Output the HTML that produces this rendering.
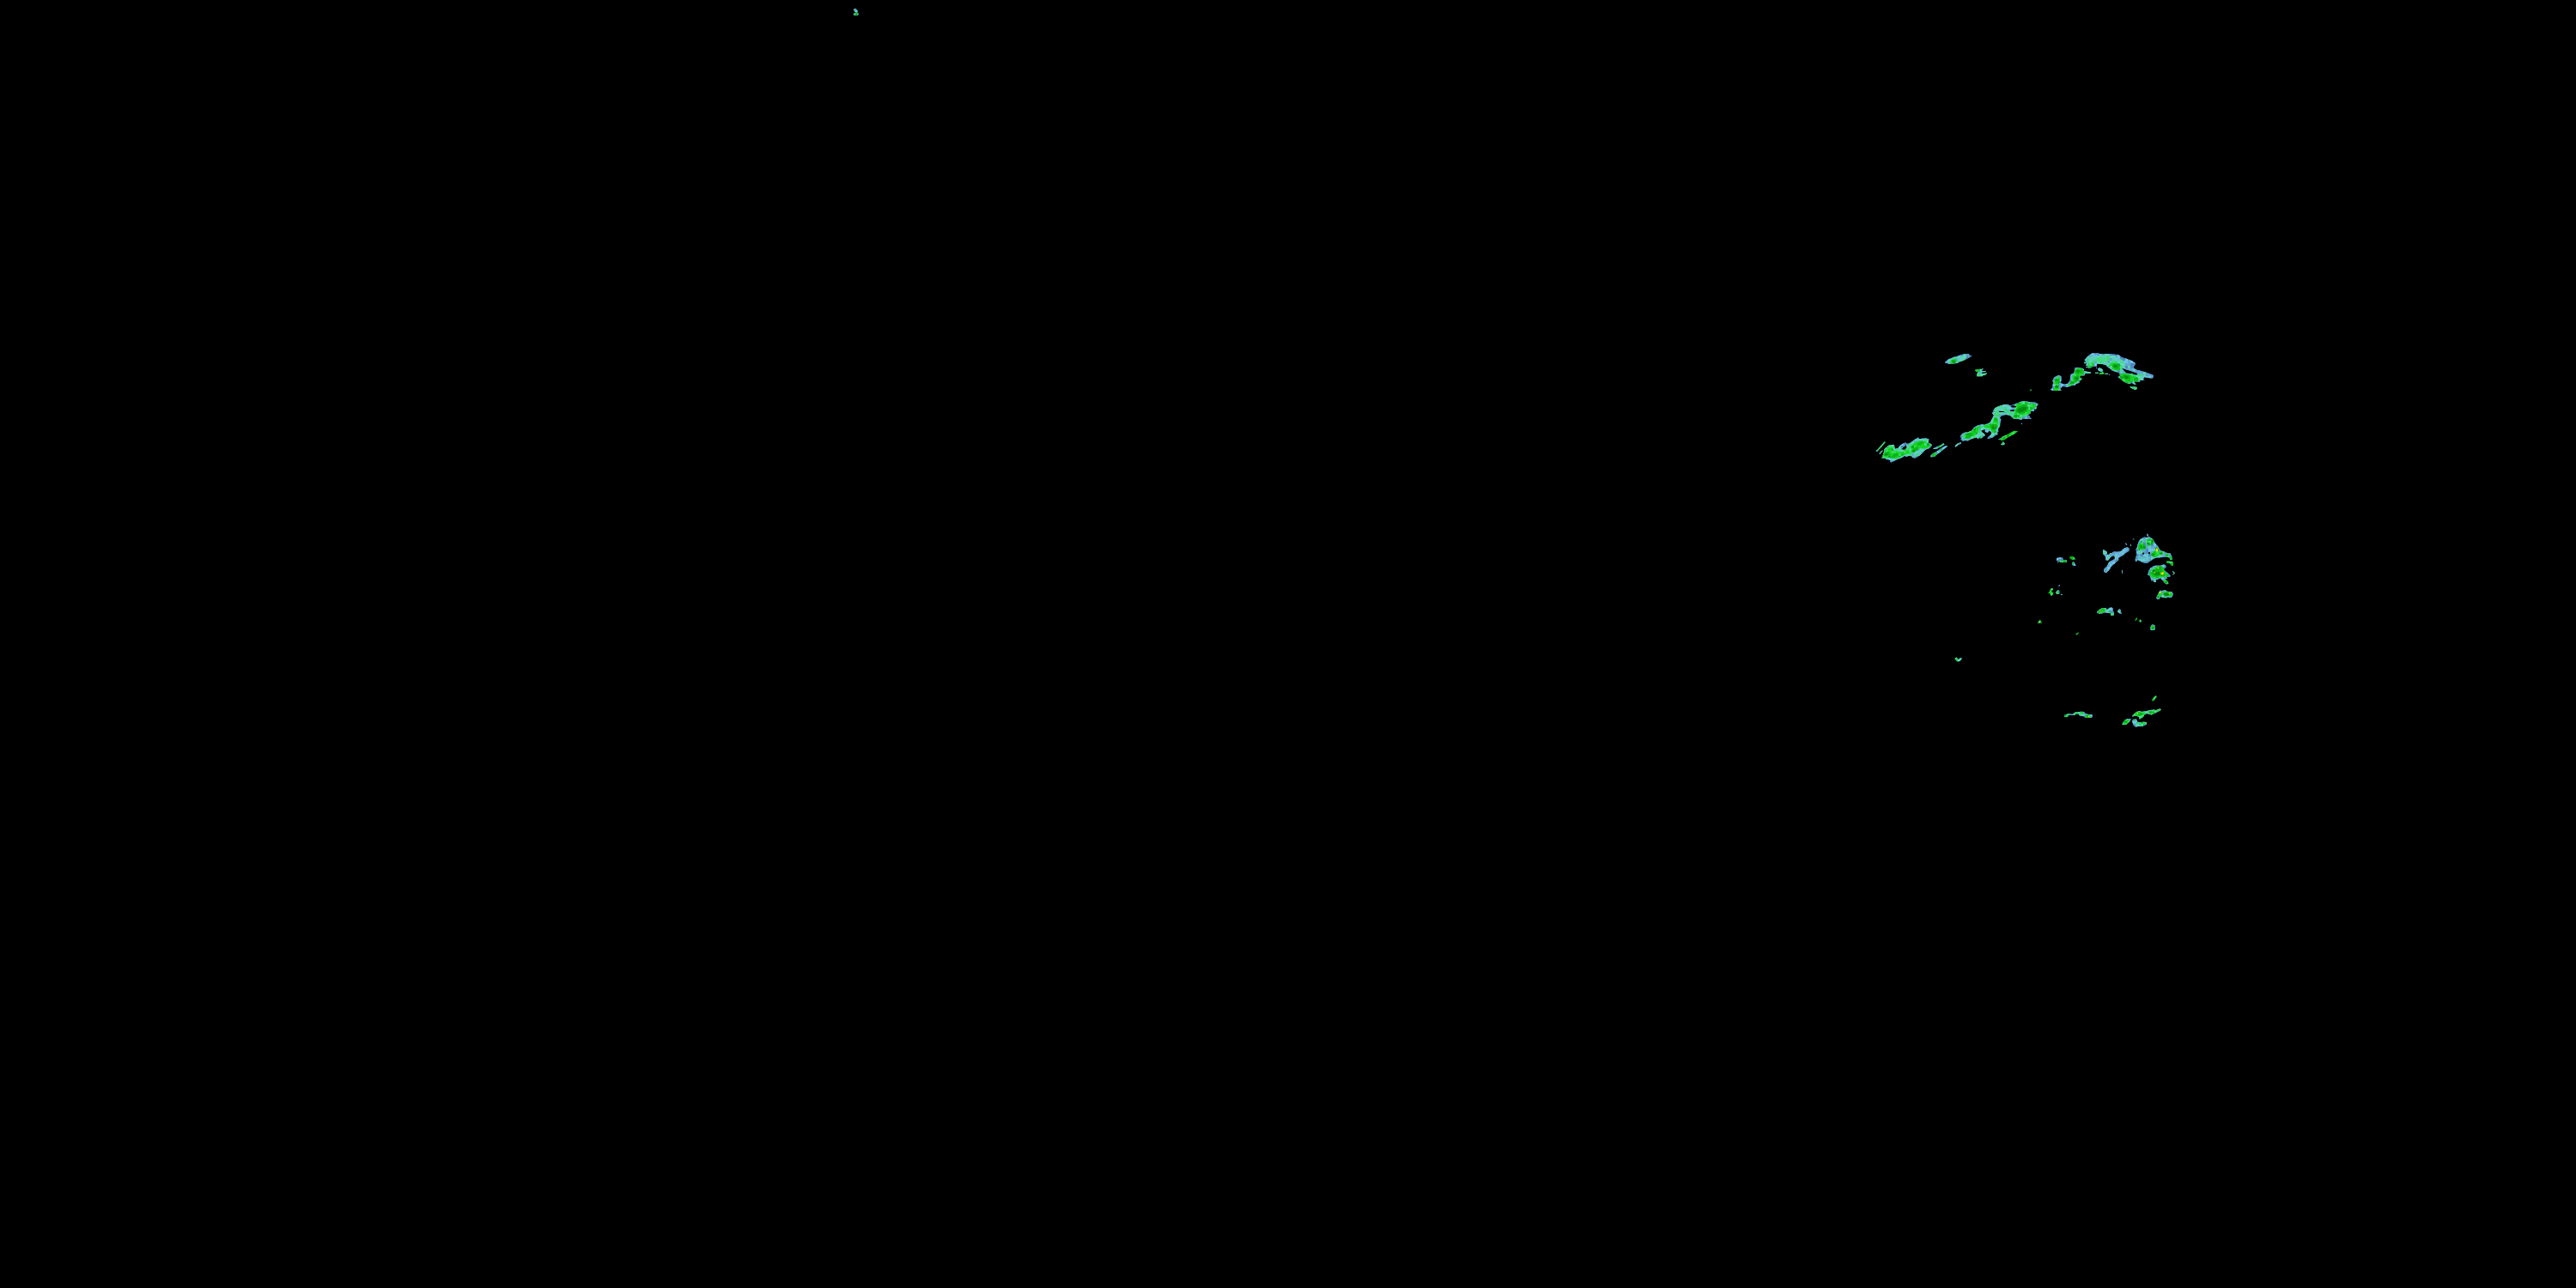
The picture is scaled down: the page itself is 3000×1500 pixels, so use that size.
<!DOCTYPE html>
<html><head><meta charset="utf-8"><title>Radar</title>
<style>
html,body{margin:0;padding:0;background:#000;width:3000px;height:1500px;overflow:hidden;font-family:"Liberation Sans",sans-serif;}
svg{display:block;}
</style></head>
<body>
<svg width="3000" height="1500" viewBox="0 0 3000 1500">
<defs><pattern id="mb" patternUnits="userSpaceOnUse" width="60" height="60"><rect x="0" y="0" width="3" height="3" fill="#5088c0"/><rect x="3" y="0" width="3" height="3" fill="#6cc4e8"/><rect x="6" y="0" width="3" height="3" fill="#5a9ccc"/><rect x="9" y="0" width="3" height="3" fill="#5088c0"/><rect x="12" y="0" width="3" height="3" fill="#6cc4e8"/><rect x="15" y="0" width="3" height="3" fill="#6cc4e8"/><rect x="21" y="0" width="3" height="3" fill="#6cc4e8"/><rect x="24" y="0" width="3" height="3" fill="#6cc4e8"/><rect x="27" y="0" width="3" height="3" fill="#5ccfb0"/><rect x="33" y="0" width="3" height="3" fill="#5088c0"/><rect x="39" y="0" width="3" height="3" fill="#5ccfb0"/><rect x="42" y="0" width="3" height="3" fill="#6cc4e8"/><rect x="48" y="0" width="3" height="3" fill="#5a9ccc"/><rect x="51" y="0" width="3" height="3" fill="#5a9ccc"/><rect x="54" y="0" width="3" height="3" fill="#6cc4e8"/><rect x="57" y="0" width="3" height="3" fill="#6cc4e8"/><rect x="6" y="3" width="3" height="3" fill="#6cc4e8"/><rect x="21" y="3" width="3" height="3" fill="#5088c0"/><rect x="24" y="3" width="3" height="3" fill="#5088c0"/><rect x="27" y="3" width="3" height="3" fill="#5ccfb0"/><rect x="30" y="3" width="3" height="3" fill="#6cc4e8"/><rect x="33" y="3" width="3" height="3" fill="#6cc4e8"/><rect x="36" y="3" width="3" height="3" fill="#5088c0"/><rect x="39" y="3" width="3" height="3" fill="#6cc4e8"/><rect x="42" y="3" width="3" height="3" fill="#5088c0"/><rect x="48" y="3" width="3" height="3" fill="#5a9ccc"/><rect x="51" y="3" width="3" height="3" fill="#5a9ccc"/><rect x="54" y="3" width="3" height="3" fill="#5ccfb0"/><rect x="57" y="3" width="3" height="3" fill="#5ccfb0"/><rect x="0" y="6" width="3" height="3" fill="#5088c0"/><rect x="12" y="6" width="3" height="3" fill="#5ccfb0"/><rect x="15" y="6" width="3" height="3" fill="#5088c0"/><rect x="18" y="6" width="3" height="3" fill="#5ccfb0"/><rect x="21" y="6" width="3" height="3" fill="#5088c0"/><rect x="24" y="6" width="3" height="3" fill="#5a9ccc"/><rect x="27" y="6" width="3" height="3" fill="#5ccfb0"/><rect x="36" y="6" width="3" height="3" fill="#5a9ccc"/><rect x="39" y="6" width="3" height="3" fill="#5088c0"/><rect x="42" y="6" width="3" height="3" fill="#5a9ccc"/><rect x="45" y="6" width="3" height="3" fill="#5088c0"/><rect x="51" y="6" width="3" height="3" fill="#6cc4e8"/><rect x="54" y="6" width="3" height="3" fill="#5ccfb0"/><rect x="3" y="9" width="3" height="3" fill="#5088c0"/><rect x="6" y="9" width="3" height="3" fill="#5a9ccc"/><rect x="9" y="9" width="3" height="3" fill="#5ccfb0"/><rect x="24" y="9" width="3" height="3" fill="#5ccfb0"/><rect x="30" y="9" width="3" height="3" fill="#6cc4e8"/><rect x="33" y="9" width="3" height="3" fill="#5088c0"/><rect x="39" y="9" width="3" height="3" fill="#5ccfb0"/><rect x="45" y="9" width="3" height="3" fill="#6cc4e8"/><rect x="51" y="9" width="3" height="3" fill="#5088c0"/><rect x="0" y="12" width="3" height="3" fill="#5a9ccc"/><rect x="3" y="12" width="3" height="3" fill="#5ccfb0"/><rect x="6" y="12" width="3" height="3" fill="#5088c0"/><rect x="9" y="12" width="3" height="3" fill="#5ccfb0"/><rect x="15" y="12" width="3" height="3" fill="#5088c0"/><rect x="18" y="12" width="3" height="3" fill="#5ccfb0"/><rect x="21" y="12" width="3" height="3" fill="#6cc4e8"/><rect x="27" y="12" width="3" height="3" fill="#5a9ccc"/><rect x="36" y="12" width="3" height="3" fill="#5ccfb0"/><rect x="39" y="12" width="3" height="3" fill="#5088c0"/><rect x="51" y="12" width="3" height="3" fill="#6cc4e8"/><rect x="57" y="12" width="3" height="3" fill="#6cc4e8"/><rect x="0" y="15" width="3" height="3" fill="#5088c0"/><rect x="3" y="15" width="3" height="3" fill="#5088c0"/><rect x="6" y="15" width="3" height="3" fill="#5a9ccc"/><rect x="9" y="15" width="3" height="3" fill="#5088c0"/><rect x="12" y="15" width="3" height="3" fill="#6cc4e8"/><rect x="15" y="15" width="3" height="3" fill="#5ccfb0"/><rect x="24" y="15" width="3" height="3" fill="#5a9ccc"/><rect x="27" y="15" width="3" height="3" fill="#5ccfb0"/><rect x="36" y="15" width="3" height="3" fill="#5ccfb0"/><rect x="39" y="15" width="3" height="3" fill="#5a9ccc"/><rect x="45" y="15" width="3" height="3" fill="#5a9ccc"/><rect x="48" y="15" width="3" height="3" fill="#5ccfb0"/><rect x="51" y="15" width="3" height="3" fill="#6cc4e8"/><rect x="54" y="15" width="3" height="3" fill="#5088c0"/><rect x="3" y="18" width="3" height="3" fill="#5a9ccc"/><rect x="9" y="18" width="3" height="3" fill="#5ccfb0"/><rect x="15" y="18" width="3" height="3" fill="#5ccfb0"/><rect x="18" y="18" width="3" height="3" fill="#6cc4e8"/><rect x="27" y="18" width="3" height="3" fill="#5ccfb0"/><rect x="36" y="18" width="3" height="3" fill="#6cc4e8"/><rect x="39" y="18" width="3" height="3" fill="#5ccfb0"/><rect x="42" y="18" width="3" height="3" fill="#6cc4e8"/><rect x="48" y="18" width="3" height="3" fill="#5a9ccc"/><rect x="0" y="21" width="3" height="3" fill="#5088c0"/><rect x="9" y="21" width="3" height="3" fill="#5088c0"/><rect x="12" y="21" width="3" height="3" fill="#6cc4e8"/><rect x="18" y="21" width="3" height="3" fill="#5088c0"/><rect x="21" y="21" width="3" height="3" fill="#5ccfb0"/><rect x="24" y="21" width="3" height="3" fill="#5a9ccc"/><rect x="27" y="21" width="3" height="3" fill="#6cc4e8"/><rect x="30" y="21" width="3" height="3" fill="#6cc4e8"/><rect x="33" y="21" width="3" height="3" fill="#6cc4e8"/><rect x="45" y="21" width="3" height="3" fill="#5a9ccc"/><rect x="48" y="21" width="3" height="3" fill="#5ccfb0"/><rect x="51" y="21" width="3" height="3" fill="#5a9ccc"/><rect x="57" y="21" width="3" height="3" fill="#6cc4e8"/><rect x="0" y="24" width="3" height="3" fill="#5088c0"/><rect x="3" y="24" width="3" height="3" fill="#5ccfb0"/><rect x="6" y="24" width="3" height="3" fill="#5088c0"/><rect x="9" y="24" width="3" height="3" fill="#5a9ccc"/><rect x="15" y="24" width="3" height="3" fill="#6cc4e8"/><rect x="18" y="24" width="3" height="3" fill="#5ccfb0"/><rect x="21" y="24" width="3" height="3" fill="#5a9ccc"/><rect x="24" y="24" width="3" height="3" fill="#5ccfb0"/><rect x="27" y="24" width="3" height="3" fill="#5ccfb0"/><rect x="30" y="24" width="3" height="3" fill="#5ccfb0"/><rect x="33" y="24" width="3" height="3" fill="#5a9ccc"/><rect x="36" y="24" width="3" height="3" fill="#5088c0"/><rect x="39" y="24" width="3" height="3" fill="#6cc4e8"/><rect x="42" y="24" width="3" height="3" fill="#5a9ccc"/><rect x="45" y="24" width="3" height="3" fill="#5ccfb0"/><rect x="48" y="24" width="3" height="3" fill="#5088c0"/><rect x="51" y="24" width="3" height="3" fill="#5ccfb0"/><rect x="54" y="24" width="3" height="3" fill="#5ccfb0"/><rect x="57" y="24" width="3" height="3" fill="#6cc4e8"/><rect x="0" y="27" width="3" height="3" fill="#6cc4e8"/><rect x="3" y="27" width="3" height="3" fill="#5088c0"/><rect x="6" y="27" width="3" height="3" fill="#6cc4e8"/><rect x="9" y="27" width="3" height="3" fill="#6cc4e8"/><rect x="15" y="27" width="3" height="3" fill="#6cc4e8"/><rect x="18" y="27" width="3" height="3" fill="#5a9ccc"/><rect x="21" y="27" width="3" height="3" fill="#5ccfb0"/><rect x="24" y="27" width="3" height="3" fill="#5ccfb0"/><rect x="27" y="27" width="3" height="3" fill="#5088c0"/><rect x="30" y="27" width="3" height="3" fill="#5ccfb0"/><rect x="33" y="27" width="3" height="3" fill="#6cc4e8"/><rect x="36" y="27" width="3" height="3" fill="#5088c0"/><rect x="39" y="27" width="3" height="3" fill="#5ccfb0"/><rect x="45" y="27" width="3" height="3" fill="#5ccfb0"/><rect x="51" y="27" width="3" height="3" fill="#6cc4e8"/><rect x="54" y="27" width="3" height="3" fill="#5088c0"/><rect x="0" y="30" width="3" height="3" fill="#6cc4e8"/><rect x="3" y="30" width="3" height="3" fill="#5088c0"/><rect x="6" y="30" width="3" height="3" fill="#6cc4e8"/><rect x="9" y="30" width="3" height="3" fill="#5a9ccc"/><rect x="18" y="30" width="3" height="3" fill="#5088c0"/><rect x="21" y="30" width="3" height="3" fill="#6cc4e8"/><rect x="30" y="30" width="3" height="3" fill="#5a9ccc"/><rect x="33" y="30" width="3" height="3" fill="#6cc4e8"/><rect x="36" y="30" width="3" height="3" fill="#5088c0"/><rect x="39" y="30" width="3" height="3" fill="#5ccfb0"/><rect x="42" y="30" width="3" height="3" fill="#5088c0"/><rect x="45" y="30" width="3" height="3" fill="#6cc4e8"/><rect x="51" y="30" width="3" height="3" fill="#5088c0"/><rect x="54" y="30" width="3" height="3" fill="#5ccfb0"/><rect x="57" y="30" width="3" height="3" fill="#5a9ccc"/><rect x="0" y="33" width="3" height="3" fill="#5ccfb0"/><rect x="3" y="33" width="3" height="3" fill="#5088c0"/><rect x="6" y="33" width="3" height="3" fill="#6cc4e8"/><rect x="9" y="33" width="3" height="3" fill="#5088c0"/><rect x="15" y="33" width="3" height="3" fill="#5088c0"/><rect x="18" y="33" width="3" height="3" fill="#5ccfb0"/><rect x="21" y="33" width="3" height="3" fill="#5ccfb0"/><rect x="24" y="33" width="3" height="3" fill="#5ccfb0"/><rect x="27" y="33" width="3" height="3" fill="#5a9ccc"/><rect x="36" y="33" width="3" height="3" fill="#5088c0"/><rect x="45" y="33" width="3" height="3" fill="#5088c0"/><rect x="48" y="33" width="3" height="3" fill="#6cc4e8"/><rect x="51" y="33" width="3" height="3" fill="#5088c0"/><rect x="54" y="33" width="3" height="3" fill="#5088c0"/><rect x="57" y="33" width="3" height="3" fill="#5ccfb0"/><rect x="0" y="36" width="3" height="3" fill="#5a9ccc"/><rect x="3" y="36" width="3" height="3" fill="#5088c0"/><rect x="12" y="36" width="3" height="3" fill="#5ccfb0"/><rect x="18" y="36" width="3" height="3" fill="#5ccfb0"/><rect x="21" y="36" width="3" height="3" fill="#6cc4e8"/><rect x="24" y="36" width="3" height="3" fill="#5088c0"/><rect x="27" y="36" width="3" height="3" fill="#5ccfb0"/><rect x="36" y="36" width="3" height="3" fill="#5088c0"/><rect x="42" y="36" width="3" height="3" fill="#5ccfb0"/><rect x="54" y="36" width="3" height="3" fill="#6cc4e8"/><rect x="57" y="36" width="3" height="3" fill="#5088c0"/><rect x="0" y="39" width="3" height="3" fill="#6cc4e8"/><rect x="3" y="39" width="3" height="3" fill="#6cc4e8"/><rect x="6" y="39" width="3" height="3" fill="#5ccfb0"/><rect x="9" y="39" width="3" height="3" fill="#5a9ccc"/><rect x="12" y="39" width="3" height="3" fill="#6cc4e8"/><rect x="18" y="39" width="3" height="3" fill="#5088c0"/><rect x="27" y="39" width="3" height="3" fill="#5088c0"/><rect x="30" y="39" width="3" height="3" fill="#5ccfb0"/><rect x="39" y="39" width="3" height="3" fill="#5088c0"/><rect x="42" y="39" width="3" height="3" fill="#6cc4e8"/><rect x="45" y="39" width="3" height="3" fill="#6cc4e8"/><rect x="48" y="39" width="3" height="3" fill="#6cc4e8"/><rect x="51" y="39" width="3" height="3" fill="#5ccfb0"/><rect x="54" y="39" width="3" height="3" fill="#5088c0"/><rect x="57" y="39" width="3" height="3" fill="#5ccfb0"/><rect x="0" y="42" width="3" height="3" fill="#5a9ccc"/><rect x="6" y="42" width="3" height="3" fill="#5a9ccc"/><rect x="9" y="42" width="3" height="3" fill="#5ccfb0"/><rect x="15" y="42" width="3" height="3" fill="#5088c0"/><rect x="18" y="42" width="3" height="3" fill="#6cc4e8"/><rect x="21" y="42" width="3" height="3" fill="#5a9ccc"/><rect x="24" y="42" width="3" height="3" fill="#5088c0"/><rect x="27" y="42" width="3" height="3" fill="#6cc4e8"/><rect x="30" y="42" width="3" height="3" fill="#5ccfb0"/><rect x="33" y="42" width="3" height="3" fill="#5ccfb0"/><rect x="36" y="42" width="3" height="3" fill="#5a9ccc"/><rect x="39" y="42" width="3" height="3" fill="#5088c0"/><rect x="42" y="42" width="3" height="3" fill="#6cc4e8"/><rect x="48" y="42" width="3" height="3" fill="#5ccfb0"/><rect x="51" y="42" width="3" height="3" fill="#5ccfb0"/><rect x="54" y="42" width="3" height="3" fill="#6cc4e8"/><rect x="57" y="42" width="3" height="3" fill="#5ccfb0"/><rect x="3" y="45" width="3" height="3" fill="#5ccfb0"/><rect x="6" y="45" width="3" height="3" fill="#5a9ccc"/><rect x="9" y="45" width="3" height="3" fill="#5a9ccc"/><rect x="12" y="45" width="3" height="3" fill="#6cc4e8"/><rect x="15" y="45" width="3" height="3" fill="#5ccfb0"/><rect x="18" y="45" width="3" height="3" fill="#5088c0"/><rect x="21" y="45" width="3" height="3" fill="#5a9ccc"/><rect x="24" y="45" width="3" height="3" fill="#5ccfb0"/><rect x="27" y="45" width="3" height="3" fill="#5088c0"/><rect x="33" y="45" width="3" height="3" fill="#5088c0"/><rect x="36" y="45" width="3" height="3" fill="#6cc4e8"/><rect x="39" y="45" width="3" height="3" fill="#5ccfb0"/><rect x="42" y="45" width="3" height="3" fill="#5088c0"/><rect x="48" y="45" width="3" height="3" fill="#5ccfb0"/><rect x="54" y="45" width="3" height="3" fill="#5ccfb0"/><rect x="0" y="48" width="3" height="3" fill="#5088c0"/><rect x="3" y="48" width="3" height="3" fill="#5ccfb0"/><rect x="12" y="48" width="3" height="3" fill="#6cc4e8"/><rect x="15" y="48" width="3" height="3" fill="#5ccfb0"/><rect x="18" y="48" width="3" height="3" fill="#5ccfb0"/><rect x="21" y="48" width="3" height="3" fill="#6cc4e8"/><rect x="24" y="48" width="3" height="3" fill="#5a9ccc"/><rect x="27" y="48" width="3" height="3" fill="#5088c0"/><rect x="30" y="48" width="3" height="3" fill="#5a9ccc"/><rect x="39" y="48" width="3" height="3" fill="#6cc4e8"/><rect x="45" y="48" width="3" height="3" fill="#5ccfb0"/><rect x="48" y="48" width="3" height="3" fill="#6cc4e8"/><rect x="51" y="48" width="3" height="3" fill="#6cc4e8"/><rect x="54" y="48" width="3" height="3" fill="#5ccfb0"/><rect x="57" y="48" width="3" height="3" fill="#6cc4e8"/><rect x="0" y="51" width="3" height="3" fill="#5088c0"/><rect x="3" y="51" width="3" height="3" fill="#5088c0"/><rect x="6" y="51" width="3" height="3" fill="#5ccfb0"/><rect x="9" y="51" width="3" height="3" fill="#5a9ccc"/><rect x="15" y="51" width="3" height="3" fill="#5ccfb0"/><rect x="18" y="51" width="3" height="3" fill="#5a9ccc"/><rect x="21" y="51" width="3" height="3" fill="#6cc4e8"/><rect x="24" y="51" width="3" height="3" fill="#6cc4e8"/><rect x="30" y="51" width="3" height="3" fill="#6cc4e8"/><rect x="33" y="51" width="3" height="3" fill="#6cc4e8"/><rect x="36" y="51" width="3" height="3" fill="#6cc4e8"/><rect x="42" y="51" width="3" height="3" fill="#5a9ccc"/><rect x="45" y="51" width="3" height="3" fill="#6cc4e8"/><rect x="48" y="51" width="3" height="3" fill="#5088c0"/><rect x="51" y="51" width="3" height="3" fill="#5ccfb0"/><rect x="54" y="51" width="3" height="3" fill="#6cc4e8"/><rect x="57" y="51" width="3" height="3" fill="#5088c0"/><rect x="0" y="54" width="3" height="3" fill="#6cc4e8"/><rect x="6" y="54" width="3" height="3" fill="#6cc4e8"/><rect x="9" y="54" width="3" height="3" fill="#5088c0"/><rect x="12" y="54" width="3" height="3" fill="#5a9ccc"/><rect x="15" y="54" width="3" height="3" fill="#5a9ccc"/><rect x="21" y="54" width="3" height="3" fill="#5088c0"/><rect x="27" y="54" width="3" height="3" fill="#5088c0"/><rect x="30" y="54" width="3" height="3" fill="#5ccfb0"/><rect x="33" y="54" width="3" height="3" fill="#5a9ccc"/><rect x="36" y="54" width="3" height="3" fill="#5088c0"/><rect x="39" y="54" width="3" height="3" fill="#5088c0"/><rect x="45" y="54" width="3" height="3" fill="#6cc4e8"/><rect x="48" y="54" width="3" height="3" fill="#5a9ccc"/><rect x="54" y="54" width="3" height="3" fill="#5ccfb0"/><rect x="6" y="57" width="3" height="3" fill="#6cc4e8"/><rect x="9" y="57" width="3" height="3" fill="#5088c0"/><rect x="12" y="57" width="3" height="3" fill="#5088c0"/><rect x="15" y="57" width="3" height="3" fill="#6cc4e8"/><rect x="21" y="57" width="3" height="3" fill="#5ccfb0"/><rect x="27" y="57" width="3" height="3" fill="#6cc4e8"/><rect x="36" y="57" width="3" height="3" fill="#6cc4e8"/><rect x="39" y="57" width="3" height="3" fill="#5088c0"/><rect x="42" y="57" width="3" height="3" fill="#5088c0"/><rect x="45" y="57" width="3" height="3" fill="#5088c0"/><rect x="48" y="57" width="3" height="3" fill="#6cc4e8"/><rect x="57" y="57" width="3" height="3" fill="#6cc4e8"/></pattern>
<pattern id="mg" patternUnits="userSpaceOnUse" width="60" height="60"><rect x="0" y="0" width="3" height="3" fill="#4ad890"/><rect x="9" y="0" width="3" height="3" fill="#4ad890"/><rect x="18" y="0" width="3" height="3" fill="#30dc50"/><rect x="24" y="0" width="3" height="3" fill="#0aa818"/><rect x="30" y="0" width="3" height="3" fill="#4ad890"/><rect x="36" y="0" width="3" height="3" fill="#30dc50"/><rect x="39" y="0" width="3" height="3" fill="#4ad890"/><rect x="42" y="0" width="3" height="3" fill="#30dc50"/><rect x="45" y="0" width="3" height="3" fill="#4ad890"/><rect x="48" y="0" width="3" height="3" fill="#30dc50"/><rect x="54" y="0" width="3" height="3" fill="#0aa818"/><rect x="57" y="0" width="3" height="3" fill="#10c020"/><rect x="6" y="3" width="3" height="3" fill="#0aa818"/><rect x="9" y="3" width="3" height="3" fill="#10c020"/><rect x="12" y="3" width="3" height="3" fill="#4ad890"/><rect x="15" y="3" width="3" height="3" fill="#30dc50"/><rect x="18" y="3" width="3" height="3" fill="#4ad890"/><rect x="21" y="3" width="3" height="3" fill="#10c020"/><rect x="24" y="3" width="3" height="3" fill="#30dc50"/><rect x="27" y="3" width="3" height="3" fill="#30dc50"/><rect x="33" y="3" width="3" height="3" fill="#4ad890"/><rect x="39" y="3" width="3" height="3" fill="#30dc50"/><rect x="42" y="3" width="3" height="3" fill="#4ad890"/><rect x="45" y="3" width="3" height="3" fill="#30dc50"/><rect x="51" y="3" width="3" height="3" fill="#0aa818"/><rect x="54" y="3" width="3" height="3" fill="#30dc50"/><rect x="3" y="6" width="3" height="3" fill="#10c020"/><rect x="9" y="6" width="3" height="3" fill="#4ad890"/><rect x="12" y="6" width="3" height="3" fill="#10c020"/><rect x="15" y="6" width="3" height="3" fill="#10c020"/><rect x="18" y="6" width="3" height="3" fill="#10c020"/><rect x="21" y="6" width="3" height="3" fill="#30dc50"/><rect x="24" y="6" width="3" height="3" fill="#4ad890"/><rect x="33" y="6" width="3" height="3" fill="#10c020"/><rect x="39" y="6" width="3" height="3" fill="#10c020"/><rect x="42" y="6" width="3" height="3" fill="#10c020"/><rect x="45" y="6" width="3" height="3" fill="#10c020"/><rect x="48" y="6" width="3" height="3" fill="#30dc50"/><rect x="51" y="6" width="3" height="3" fill="#10c020"/><rect x="57" y="6" width="3" height="3" fill="#4ad890"/><rect x="3" y="9" width="3" height="3" fill="#10c020"/><rect x="6" y="9" width="3" height="3" fill="#10c020"/><rect x="9" y="9" width="3" height="3" fill="#4ad890"/><rect x="12" y="9" width="3" height="3" fill="#4ad890"/><rect x="15" y="9" width="3" height="3" fill="#10c020"/><rect x="18" y="9" width="3" height="3" fill="#10c020"/><rect x="24" y="9" width="3" height="3" fill="#0aa818"/><rect x="30" y="9" width="3" height="3" fill="#10c020"/><rect x="48" y="9" width="3" height="3" fill="#10c020"/><rect x="51" y="9" width="3" height="3" fill="#30dc50"/><rect x="54" y="9" width="3" height="3" fill="#30dc50"/><rect x="0" y="12" width="3" height="3" fill="#30dc50"/><rect x="6" y="12" width="3" height="3" fill="#10c020"/><rect x="9" y="12" width="3" height="3" fill="#0aa818"/><rect x="12" y="12" width="3" height="3" fill="#4ad890"/><rect x="15" y="12" width="3" height="3" fill="#10c020"/><rect x="18" y="12" width="3" height="3" fill="#0aa818"/><rect x="21" y="12" width="3" height="3" fill="#10c020"/><rect x="24" y="12" width="3" height="3" fill="#10c020"/><rect x="27" y="12" width="3" height="3" fill="#10c020"/><rect x="30" y="12" width="3" height="3" fill="#4ad890"/><rect x="33" y="12" width="3" height="3" fill="#30dc50"/><rect x="36" y="12" width="3" height="3" fill="#10c020"/><rect x="39" y="12" width="3" height="3" fill="#30dc50"/><rect x="42" y="12" width="3" height="3" fill="#30dc50"/><rect x="48" y="12" width="3" height="3" fill="#30dc50"/><rect x="51" y="12" width="3" height="3" fill="#0aa818"/><rect x="54" y="12" width="3" height="3" fill="#30dc50"/><rect x="57" y="12" width="3" height="3" fill="#4ad890"/><rect x="3" y="15" width="3" height="3" fill="#10c020"/><rect x="6" y="15" width="3" height="3" fill="#30dc50"/><rect x="15" y="15" width="3" height="3" fill="#30dc50"/><rect x="18" y="15" width="3" height="3" fill="#10c020"/><rect x="27" y="15" width="3" height="3" fill="#4ad890"/><rect x="42" y="15" width="3" height="3" fill="#0aa818"/><rect x="54" y="15" width="3" height="3" fill="#10c020"/><rect x="3" y="18" width="3" height="3" fill="#30dc50"/><rect x="6" y="18" width="3" height="3" fill="#4ad890"/><rect x="9" y="18" width="3" height="3" fill="#0aa818"/><rect x="18" y="18" width="3" height="3" fill="#0aa818"/><rect x="27" y="18" width="3" height="3" fill="#10c020"/><rect x="33" y="18" width="3" height="3" fill="#30dc50"/><rect x="36" y="18" width="3" height="3" fill="#30dc50"/><rect x="39" y="18" width="3" height="3" fill="#10c020"/><rect x="54" y="18" width="3" height="3" fill="#30dc50"/><rect x="0" y="21" width="3" height="3" fill="#0aa818"/><rect x="3" y="21" width="3" height="3" fill="#30dc50"/><rect x="9" y="21" width="3" height="3" fill="#10c020"/><rect x="12" y="21" width="3" height="3" fill="#30dc50"/><rect x="18" y="21" width="3" height="3" fill="#10c020"/><rect x="24" y="21" width="3" height="3" fill="#30dc50"/><rect x="30" y="21" width="3" height="3" fill="#30dc50"/><rect x="33" y="21" width="3" height="3" fill="#4ad890"/><rect x="36" y="21" width="3" height="3" fill="#0aa818"/><rect x="42" y="21" width="3" height="3" fill="#10c020"/><rect x="51" y="21" width="3" height="3" fill="#0aa818"/><rect x="54" y="21" width="3" height="3" fill="#0aa818"/><rect x="3" y="24" width="3" height="3" fill="#30dc50"/><rect x="9" y="24" width="3" height="3" fill="#0aa818"/><rect x="12" y="24" width="3" height="3" fill="#0aa818"/><rect x="15" y="24" width="3" height="3" fill="#10c020"/><rect x="21" y="24" width="3" height="3" fill="#0aa818"/><rect x="24" y="24" width="3" height="3" fill="#10c020"/><rect x="36" y="24" width="3" height="3" fill="#0aa818"/><rect x="39" y="24" width="3" height="3" fill="#10c020"/><rect x="42" y="24" width="3" height="3" fill="#30dc50"/><rect x="45" y="24" width="3" height="3" fill="#0aa818"/><rect x="48" y="24" width="3" height="3" fill="#4ad890"/><rect x="54" y="24" width="3" height="3" fill="#10c020"/><rect x="57" y="24" width="3" height="3" fill="#0aa818"/><rect x="0" y="27" width="3" height="3" fill="#30dc50"/><rect x="6" y="27" width="3" height="3" fill="#30dc50"/><rect x="24" y="27" width="3" height="3" fill="#10c020"/><rect x="27" y="27" width="3" height="3" fill="#4ad890"/><rect x="33" y="27" width="3" height="3" fill="#10c020"/><rect x="36" y="27" width="3" height="3" fill="#0aa818"/><rect x="39" y="27" width="3" height="3" fill="#10c020"/><rect x="42" y="27" width="3" height="3" fill="#10c020"/><rect x="45" y="27" width="3" height="3" fill="#30dc50"/><rect x="51" y="27" width="3" height="3" fill="#4ad890"/><rect x="54" y="27" width="3" height="3" fill="#30dc50"/><rect x="57" y="27" width="3" height="3" fill="#0aa818"/><rect x="0" y="30" width="3" height="3" fill="#0aa818"/><rect x="12" y="30" width="3" height="3" fill="#10c020"/><rect x="15" y="30" width="3" height="3" fill="#4ad890"/><rect x="18" y="30" width="3" height="3" fill="#4ad890"/><rect x="21" y="30" width="3" height="3" fill="#10c020"/><rect x="24" y="30" width="3" height="3" fill="#30dc50"/><rect x="27" y="30" width="3" height="3" fill="#30dc50"/><rect x="33" y="30" width="3" height="3" fill="#4ad890"/><rect x="36" y="30" width="3" height="3" fill="#4ad890"/><rect x="39" y="30" width="3" height="3" fill="#30dc50"/><rect x="42" y="30" width="3" height="3" fill="#4ad890"/><rect x="45" y="30" width="3" height="3" fill="#0aa818"/><rect x="48" y="30" width="3" height="3" fill="#30dc50"/><rect x="3" y="33" width="3" height="3" fill="#4ad890"/><rect x="18" y="33" width="3" height="3" fill="#10c020"/><rect x="27" y="33" width="3" height="3" fill="#10c020"/><rect x="30" y="33" width="3" height="3" fill="#10c020"/><rect x="36" y="33" width="3" height="3" fill="#0aa818"/><rect x="42" y="33" width="3" height="3" fill="#10c020"/><rect x="45" y="33" width="3" height="3" fill="#0aa818"/><rect x="48" y="33" width="3" height="3" fill="#4ad890"/><rect x="57" y="33" width="3" height="3" fill="#4ad890"/><rect x="0" y="36" width="3" height="3" fill="#10c020"/><rect x="21" y="36" width="3" height="3" fill="#4ad890"/><rect x="24" y="36" width="3" height="3" fill="#0aa818"/><rect x="30" y="36" width="3" height="3" fill="#10c020"/><rect x="33" y="36" width="3" height="3" fill="#0aa818"/><rect x="36" y="36" width="3" height="3" fill="#10c020"/><rect x="48" y="36" width="3" height="3" fill="#4ad890"/><rect x="51" y="36" width="3" height="3" fill="#10c020"/><rect x="54" y="36" width="3" height="3" fill="#10c020"/><rect x="57" y="36" width="3" height="3" fill="#30dc50"/><rect x="3" y="39" width="3" height="3" fill="#30dc50"/><rect x="6" y="39" width="3" height="3" fill="#0aa818"/><rect x="9" y="39" width="3" height="3" fill="#30dc50"/><rect x="27" y="39" width="3" height="3" fill="#10c020"/><rect x="30" y="39" width="3" height="3" fill="#30dc50"/><rect x="36" y="39" width="3" height="3" fill="#10c020"/><rect x="39" y="39" width="3" height="3" fill="#30dc50"/><rect x="42" y="39" width="3" height="3" fill="#30dc50"/><rect x="48" y="39" width="3" height="3" fill="#4ad890"/><rect x="51" y="39" width="3" height="3" fill="#10c020"/><rect x="0" y="42" width="3" height="3" fill="#30dc50"/><rect x="3" y="42" width="3" height="3" fill="#4ad890"/><rect x="12" y="42" width="3" height="3" fill="#10c020"/><rect x="18" y="42" width="3" height="3" fill="#10c020"/><rect x="21" y="42" width="3" height="3" fill="#4ad890"/><rect x="24" y="42" width="3" height="3" fill="#10c020"/><rect x="27" y="42" width="3" height="3" fill="#0aa818"/><rect x="33" y="42" width="3" height="3" fill="#0aa818"/><rect x="36" y="42" width="3" height="3" fill="#30dc50"/><rect x="42" y="42" width="3" height="3" fill="#10c020"/><rect x="45" y="42" width="3" height="3" fill="#30dc50"/><rect x="48" y="42" width="3" height="3" fill="#10c020"/><rect x="51" y="42" width="3" height="3" fill="#30dc50"/><rect x="57" y="42" width="3" height="3" fill="#10c020"/><rect x="3" y="45" width="3" height="3" fill="#30dc50"/><rect x="9" y="45" width="3" height="3" fill="#4ad890"/><rect x="12" y="45" width="3" height="3" fill="#10c020"/><rect x="18" y="45" width="3" height="3" fill="#10c020"/><rect x="24" y="45" width="3" height="3" fill="#30dc50"/><rect x="30" y="45" width="3" height="3" fill="#30dc50"/><rect x="36" y="45" width="3" height="3" fill="#30dc50"/><rect x="42" y="45" width="3" height="3" fill="#30dc50"/><rect x="45" y="45" width="3" height="3" fill="#30dc50"/><rect x="57" y="45" width="3" height="3" fill="#30dc50"/><rect x="6" y="48" width="3" height="3" fill="#10c020"/><rect x="9" y="48" width="3" height="3" fill="#0aa818"/><rect x="15" y="48" width="3" height="3" fill="#4ad890"/><rect x="18" y="48" width="3" height="3" fill="#10c020"/><rect x="30" y="48" width="3" height="3" fill="#10c020"/><rect x="39" y="48" width="3" height="3" fill="#10c020"/><rect x="45" y="48" width="3" height="3" fill="#10c020"/><rect x="48" y="48" width="3" height="3" fill="#10c020"/><rect x="51" y="48" width="3" height="3" fill="#30dc50"/><rect x="54" y="48" width="3" height="3" fill="#10c020"/><rect x="3" y="51" width="3" height="3" fill="#0aa818"/><rect x="15" y="51" width="3" height="3" fill="#0aa818"/><rect x="18" y="51" width="3" height="3" fill="#10c020"/><rect x="21" y="51" width="3" height="3" fill="#4ad890"/><rect x="24" y="51" width="3" height="3" fill="#30dc50"/><rect x="30" y="51" width="3" height="3" fill="#10c020"/><rect x="33" y="51" width="3" height="3" fill="#30dc50"/><rect x="39" y="51" width="3" height="3" fill="#0aa818"/><rect x="42" y="51" width="3" height="3" fill="#10c020"/><rect x="51" y="51" width="3" height="3" fill="#10c020"/><rect x="57" y="51" width="3" height="3" fill="#4ad890"/><rect x="0" y="54" width="3" height="3" fill="#4ad890"/><rect x="3" y="54" width="3" height="3" fill="#10c020"/><rect x="6" y="54" width="3" height="3" fill="#4ad890"/><rect x="9" y="54" width="3" height="3" fill="#30dc50"/><rect x="12" y="54" width="3" height="3" fill="#10c020"/><rect x="18" y="54" width="3" height="3" fill="#4ad890"/><rect x="21" y="54" width="3" height="3" fill="#4ad890"/><rect x="24" y="54" width="3" height="3" fill="#10c020"/><rect x="33" y="54" width="3" height="3" fill="#30dc50"/><rect x="36" y="54" width="3" height="3" fill="#0aa818"/><rect x="45" y="54" width="3" height="3" fill="#30dc50"/><rect x="48" y="54" width="3" height="3" fill="#30dc50"/><rect x="57" y="54" width="3" height="3" fill="#30dc50"/><rect x="3" y="57" width="3" height="3" fill="#0aa818"/><rect x="9" y="57" width="3" height="3" fill="#0aa818"/><rect x="12" y="57" width="3" height="3" fill="#10c020"/><rect x="27" y="57" width="3" height="3" fill="#30dc50"/><rect x="30" y="57" width="3" height="3" fill="#30dc50"/><rect x="33" y="57" width="3" height="3" fill="#30dc50"/><rect x="39" y="57" width="3" height="3" fill="#30dc50"/><rect x="42" y="57" width="3" height="3" fill="#30dc50"/><rect x="51" y="57" width="3" height="3" fill="#10c020"/></pattern>
<pattern id="mt" patternUnits="userSpaceOnUse" width="60" height="60"><rect x="0" y="0" width="3" height="3" fill="#40d880"/><rect x="3" y="0" width="3" height="3" fill="#40d880"/><rect x="6" y="0" width="3" height="3" fill="#58dcb0"/><rect x="12" y="0" width="3" height="3" fill="#40d880"/><rect x="15" y="0" width="3" height="3" fill="#58dcb0"/><rect x="18" y="0" width="3" height="3" fill="#58dcb0"/><rect x="24" y="0" width="3" height="3" fill="#40d880"/><rect x="27" y="0" width="3" height="3" fill="#40d880"/><rect x="30" y="0" width="3" height="3" fill="#40d880"/><rect x="33" y="0" width="3" height="3" fill="#58dcb0"/><rect x="36" y="0" width="3" height="3" fill="#40d880"/><rect x="39" y="0" width="3" height="3" fill="#62a8d6"/><rect x="42" y="0" width="3" height="3" fill="#58dcb0"/><rect x="45" y="0" width="3" height="3" fill="#40d880"/><rect x="54" y="0" width="3" height="3" fill="#62a8d6"/><rect x="0" y="3" width="3" height="3" fill="#40d880"/><rect x="3" y="3" width="3" height="3" fill="#6cc4e8"/><rect x="6" y="3" width="3" height="3" fill="#62a8d6"/><rect x="9" y="3" width="3" height="3" fill="#58dcb0"/><rect x="12" y="3" width="3" height="3" fill="#58dcb0"/><rect x="15" y="3" width="3" height="3" fill="#40d880"/><rect x="18" y="3" width="3" height="3" fill="#40d880"/><rect x="27" y="3" width="3" height="3" fill="#58dcb0"/><rect x="36" y="3" width="3" height="3" fill="#58dcb0"/><rect x="39" y="3" width="3" height="3" fill="#6cc4e8"/><rect x="57" y="3" width="3" height="3" fill="#40d880"/><rect x="15" y="6" width="3" height="3" fill="#58dcb0"/><rect x="18" y="6" width="3" height="3" fill="#6cc4e8"/><rect x="21" y="6" width="3" height="3" fill="#40d880"/><rect x="48" y="6" width="3" height="3" fill="#40d880"/><rect x="51" y="6" width="3" height="3" fill="#62a8d6"/><rect x="54" y="6" width="3" height="3" fill="#62a8d6"/><rect x="0" y="9" width="3" height="3" fill="#40d880"/><rect x="3" y="9" width="3" height="3" fill="#6cc4e8"/><rect x="12" y="9" width="3" height="3" fill="#62a8d6"/><rect x="18" y="9" width="3" height="3" fill="#6cc4e8"/><rect x="24" y="9" width="3" height="3" fill="#58dcb0"/><rect x="30" y="9" width="3" height="3" fill="#40d880"/><rect x="33" y="9" width="3" height="3" fill="#62a8d6"/><rect x="39" y="9" width="3" height="3" fill="#58dcb0"/><rect x="42" y="9" width="3" height="3" fill="#6cc4e8"/><rect x="48" y="9" width="3" height="3" fill="#62a8d6"/><rect x="51" y="9" width="3" height="3" fill="#40d880"/><rect x="0" y="12" width="3" height="3" fill="#40d880"/><rect x="3" y="12" width="3" height="3" fill="#6cc4e8"/><rect x="6" y="12" width="3" height="3" fill="#62a8d6"/><rect x="9" y="12" width="3" height="3" fill="#62a8d6"/><rect x="12" y="12" width="3" height="3" fill="#40d880"/><rect x="18" y="12" width="3" height="3" fill="#58dcb0"/><rect x="21" y="12" width="3" height="3" fill="#58dcb0"/><rect x="24" y="12" width="3" height="3" fill="#62a8d6"/><rect x="33" y="12" width="3" height="3" fill="#58dcb0"/><rect x="45" y="12" width="3" height="3" fill="#6cc4e8"/><rect x="48" y="12" width="3" height="3" fill="#40d880"/><rect x="54" y="12" width="3" height="3" fill="#40d880"/><rect x="57" y="12" width="3" height="3" fill="#6cc4e8"/><rect x="0" y="15" width="3" height="3" fill="#58dcb0"/><rect x="3" y="15" width="3" height="3" fill="#58dcb0"/><rect x="6" y="15" width="3" height="3" fill="#62a8d6"/><rect x="9" y="15" width="3" height="3" fill="#58dcb0"/><rect x="12" y="15" width="3" height="3" fill="#58dcb0"/><rect x="15" y="15" width="3" height="3" fill="#58dcb0"/><rect x="18" y="15" width="3" height="3" fill="#6cc4e8"/><rect x="21" y="15" width="3" height="3" fill="#40d880"/><rect x="24" y="15" width="3" height="3" fill="#40d880"/><rect x="27" y="15" width="3" height="3" fill="#58dcb0"/><rect x="30" y="15" width="3" height="3" fill="#40d880"/><rect x="33" y="15" width="3" height="3" fill="#6cc4e8"/><rect x="45" y="15" width="3" height="3" fill="#40d880"/><rect x="48" y="15" width="3" height="3" fill="#40d880"/><rect x="57" y="15" width="3" height="3" fill="#58dcb0"/><rect x="3" y="18" width="3" height="3" fill="#58dcb0"/><rect x="6" y="18" width="3" height="3" fill="#6cc4e8"/><rect x="9" y="18" width="3" height="3" fill="#40d880"/><rect x="12" y="18" width="3" height="3" fill="#58dcb0"/><rect x="15" y="18" width="3" height="3" fill="#40d880"/><rect x="21" y="18" width="3" height="3" fill="#58dcb0"/><rect x="24" y="18" width="3" height="3" fill="#62a8d6"/><rect x="27" y="18" width="3" height="3" fill="#58dcb0"/><rect x="30" y="18" width="3" height="3" fill="#58dcb0"/><rect x="42" y="18" width="3" height="3" fill="#6cc4e8"/><rect x="45" y="18" width="3" height="3" fill="#6cc4e8"/><rect x="57" y="18" width="3" height="3" fill="#6cc4e8"/><rect x="0" y="21" width="3" height="3" fill="#6cc4e8"/><rect x="3" y="21" width="3" height="3" fill="#58dcb0"/><rect x="6" y="21" width="3" height="3" fill="#58dcb0"/><rect x="9" y="21" width="3" height="3" fill="#6cc4e8"/><rect x="12" y="21" width="3" height="3" fill="#58dcb0"/><rect x="21" y="21" width="3" height="3" fill="#58dcb0"/><rect x="24" y="21" width="3" height="3" fill="#40d880"/><rect x="39" y="21" width="3" height="3" fill="#62a8d6"/><rect x="42" y="21" width="3" height="3" fill="#62a8d6"/><rect x="0" y="24" width="3" height="3" fill="#62a8d6"/><rect x="6" y="24" width="3" height="3" fill="#58dcb0"/><rect x="9" y="24" width="3" height="3" fill="#40d880"/><rect x="12" y="24" width="3" height="3" fill="#62a8d6"/><rect x="15" y="24" width="3" height="3" fill="#40d880"/><rect x="39" y="24" width="3" height="3" fill="#58dcb0"/><rect x="45" y="24" width="3" height="3" fill="#62a8d6"/><rect x="54" y="24" width="3" height="3" fill="#6cc4e8"/><rect x="6" y="27" width="3" height="3" fill="#58dcb0"/><rect x="15" y="27" width="3" height="3" fill="#58dcb0"/><rect x="18" y="27" width="3" height="3" fill="#40d880"/><rect x="21" y="27" width="3" height="3" fill="#58dcb0"/><rect x="27" y="27" width="3" height="3" fill="#58dcb0"/><rect x="36" y="27" width="3" height="3" fill="#6cc4e8"/><rect x="39" y="27" width="3" height="3" fill="#40d880"/><rect x="42" y="27" width="3" height="3" fill="#6cc4e8"/><rect x="48" y="27" width="3" height="3" fill="#58dcb0"/><rect x="54" y="27" width="3" height="3" fill="#40d880"/><rect x="3" y="30" width="3" height="3" fill="#58dcb0"/><rect x="6" y="30" width="3" height="3" fill="#62a8d6"/><rect x="9" y="30" width="3" height="3" fill="#58dcb0"/><rect x="15" y="30" width="3" height="3" fill="#6cc4e8"/><rect x="18" y="30" width="3" height="3" fill="#58dcb0"/><rect x="21" y="30" width="3" height="3" fill="#40d880"/><rect x="27" y="30" width="3" height="3" fill="#40d880"/><rect x="30" y="30" width="3" height="3" fill="#58dcb0"/><rect x="33" y="30" width="3" height="3" fill="#58dcb0"/><rect x="36" y="30" width="3" height="3" fill="#62a8d6"/><rect x="45" y="30" width="3" height="3" fill="#6cc4e8"/><rect x="3" y="33" width="3" height="3" fill="#62a8d6"/><rect x="9" y="33" width="3" height="3" fill="#62a8d6"/><rect x="12" y="33" width="3" height="3" fill="#6cc4e8"/><rect x="21" y="33" width="3" height="3" fill="#40d880"/><rect x="24" y="33" width="3" height="3" fill="#58dcb0"/><rect x="27" y="33" width="3" height="3" fill="#58dcb0"/><rect x="30" y="33" width="3" height="3" fill="#40d880"/><rect x="36" y="33" width="3" height="3" fill="#58dcb0"/><rect x="39" y="33" width="3" height="3" fill="#58dcb0"/><rect x="42" y="33" width="3" height="3" fill="#58dcb0"/><rect x="45" y="33" width="3" height="3" fill="#40d880"/><rect x="51" y="33" width="3" height="3" fill="#40d880"/><rect x="54" y="33" width="3" height="3" fill="#6cc4e8"/><rect x="57" y="33" width="3" height="3" fill="#58dcb0"/><rect x="0" y="36" width="3" height="3" fill="#62a8d6"/><rect x="3" y="36" width="3" height="3" fill="#40d880"/><rect x="9" y="36" width="3" height="3" fill="#40d880"/><rect x="12" y="36" width="3" height="3" fill="#40d880"/><rect x="18" y="36" width="3" height="3" fill="#62a8d6"/><rect x="21" y="36" width="3" height="3" fill="#58dcb0"/><rect x="33" y="36" width="3" height="3" fill="#58dcb0"/><rect x="39" y="36" width="3" height="3" fill="#58dcb0"/><rect x="42" y="36" width="3" height="3" fill="#58dcb0"/><rect x="45" y="36" width="3" height="3" fill="#58dcb0"/><rect x="48" y="36" width="3" height="3" fill="#58dcb0"/><rect x="54" y="36" width="3" height="3" fill="#62a8d6"/><rect x="57" y="36" width="3" height="3" fill="#58dcb0"/><rect x="3" y="39" width="3" height="3" fill="#40d880"/><rect x="6" y="39" width="3" height="3" fill="#58dcb0"/><rect x="9" y="39" width="3" height="3" fill="#58dcb0"/><rect x="24" y="39" width="3" height="3" fill="#40d880"/><rect x="30" y="39" width="3" height="3" fill="#58dcb0"/><rect x="33" y="39" width="3" height="3" fill="#40d880"/><rect x="36" y="39" width="3" height="3" fill="#40d880"/><rect x="39" y="39" width="3" height="3" fill="#58dcb0"/><rect x="45" y="39" width="3" height="3" fill="#40d880"/><rect x="57" y="39" width="3" height="3" fill="#6cc4e8"/><rect x="0" y="42" width="3" height="3" fill="#58dcb0"/><rect x="6" y="42" width="3" height="3" fill="#6cc4e8"/><rect x="12" y="42" width="3" height="3" fill="#62a8d6"/><rect x="18" y="42" width="3" height="3" fill="#58dcb0"/><rect x="21" y="42" width="3" height="3" fill="#62a8d6"/><rect x="24" y="42" width="3" height="3" fill="#40d880"/><rect x="42" y="42" width="3" height="3" fill="#40d880"/><rect x="45" y="42" width="3" height="3" fill="#6cc4e8"/><rect x="48" y="42" width="3" height="3" fill="#40d880"/><rect x="54" y="42" width="3" height="3" fill="#58dcb0"/><rect x="0" y="45" width="3" height="3" fill="#62a8d6"/><rect x="9" y="45" width="3" height="3" fill="#58dcb0"/><rect x="12" y="45" width="3" height="3" fill="#6cc4e8"/><rect x="21" y="45" width="3" height="3" fill="#58dcb0"/><rect x="36" y="45" width="3" height="3" fill="#40d880"/><rect x="42" y="45" width="3" height="3" fill="#40d880"/><rect x="48" y="45" width="3" height="3" fill="#40d880"/><rect x="51" y="45" width="3" height="3" fill="#40d880"/><rect x="57" y="45" width="3" height="3" fill="#58dcb0"/><rect x="0" y="48" width="3" height="3" fill="#58dcb0"/><rect x="3" y="48" width="3" height="3" fill="#40d880"/><rect x="6" y="48" width="3" height="3" fill="#62a8d6"/><rect x="12" y="48" width="3" height="3" fill="#40d880"/><rect x="21" y="48" width="3" height="3" fill="#40d880"/><rect x="27" y="48" width="3" height="3" fill="#40d880"/><rect x="30" y="48" width="3" height="3" fill="#6cc4e8"/><rect x="36" y="48" width="3" height="3" fill="#40d880"/><rect x="45" y="48" width="3" height="3" fill="#6cc4e8"/><rect x="48" y="48" width="3" height="3" fill="#58dcb0"/><rect x="54" y="48" width="3" height="3" fill="#6cc4e8"/><rect x="0" y="51" width="3" height="3" fill="#58dcb0"/><rect x="6" y="51" width="3" height="3" fill="#40d880"/><rect x="12" y="51" width="3" height="3" fill="#40d880"/><rect x="15" y="51" width="3" height="3" fill="#6cc4e8"/><rect x="18" y="51" width="3" height="3" fill="#58dcb0"/><rect x="21" y="51" width="3" height="3" fill="#6cc4e8"/><rect x="24" y="51" width="3" height="3" fill="#40d880"/><rect x="27" y="51" width="3" height="3" fill="#62a8d6"/><rect x="30" y="51" width="3" height="3" fill="#40d880"/><rect x="33" y="51" width="3" height="3" fill="#40d880"/><rect x="36" y="51" width="3" height="3" fill="#40d880"/><rect x="39" y="51" width="3" height="3" fill="#6cc4e8"/><rect x="42" y="51" width="3" height="3" fill="#6cc4e8"/><rect x="45" y="51" width="3" height="3" fill="#58dcb0"/><rect x="48" y="51" width="3" height="3" fill="#40d880"/><rect x="51" y="51" width="3" height="3" fill="#58dcb0"/><rect x="54" y="51" width="3" height="3" fill="#6cc4e8"/><rect x="0" y="54" width="3" height="3" fill="#58dcb0"/><rect x="6" y="54" width="3" height="3" fill="#58dcb0"/><rect x="9" y="54" width="3" height="3" fill="#58dcb0"/><rect x="12" y="54" width="3" height="3" fill="#58dcb0"/><rect x="15" y="54" width="3" height="3" fill="#58dcb0"/><rect x="18" y="54" width="3" height="3" fill="#40d880"/><rect x="21" y="54" width="3" height="3" fill="#62a8d6"/><rect x="27" y="54" width="3" height="3" fill="#40d880"/><rect x="30" y="54" width="3" height="3" fill="#58dcb0"/><rect x="39" y="54" width="3" height="3" fill="#6cc4e8"/><rect x="42" y="54" width="3" height="3" fill="#58dcb0"/><rect x="54" y="54" width="3" height="3" fill="#40d880"/><rect x="57" y="54" width="3" height="3" fill="#58dcb0"/><rect x="3" y="57" width="3" height="3" fill="#6cc4e8"/><rect x="12" y="57" width="3" height="3" fill="#40d880"/><rect x="15" y="57" width="3" height="3" fill="#6cc4e8"/><rect x="18" y="57" width="3" height="3" fill="#62a8d6"/><rect x="21" y="57" width="3" height="3" fill="#40d880"/><rect x="30" y="57" width="3" height="3" fill="#40d880"/><rect x="42" y="57" width="3" height="3" fill="#40d880"/><rect x="51" y="57" width="3" height="3" fill="#58dcb0"/><rect x="54" y="57" width="3" height="3" fill="#40d880"/><rect x="57" y="57" width="3" height="3" fill="#62a8d6"/></pattern></defs>
<rect width="3000" height="1500" fill="#000"/>
<g>
<polygon points="2191.3,533.4 2193.2,529.5 2194.4,524.1 2194.8,522.5 2198.2,519.4 2200.2,518.2 2202.5,519.0 2205.2,517.5 2206.4,519.0 2205.2,521.7 2207.2,522.5 2210.3,522.1 2213.0,518.6 2216.9,516.3 2219.2,515.5 2220.8,516.7 2223.9,516.7 2228.5,513.2 2232.8,510.1 2234.3,509.3 2235.1,511.3 2239.4,510.5 2243.7,510.5 2246.8,511.6 2245.2,515.5 2248.3,516.7 2249.9,517.9 2248.7,520.6 2246.0,522.5 2242.9,523.3 2239.8,526.8 2235.1,531.1 2230.5,533.4 2227.4,533.0 2226.6,530.7 2222.7,530.7 2220.8,532.2 2218.0,531.1 2214.9,533.0 2211.1,534.5 2206.4,536.5 2202.5,538.4 2201.0,537.7 2201.7,534.9 2197.1,535.3 2195.5,533.4" fill="#62a8d6"/>
<polygon points="2191.3,533.4 2193.2,529.5 2194.4,524.1 2194.8,522.5 2198.2,519.4 2200.2,518.2 2202.5,519.0 2205.2,517.5 2206.4,519.0 2205.2,521.7 2207.2,522.5 2210.3,522.1 2213.0,518.6 2216.9,516.3 2219.2,515.5 2220.8,516.7 2223.9,516.7 2228.5,513.2 2232.8,510.1 2234.3,509.3 2235.1,511.3 2239.4,510.5 2243.7,510.5 2246.8,511.6 2245.2,515.5 2248.3,516.7 2249.9,517.9 2248.7,520.6 2246.0,522.5 2242.9,523.3 2239.8,526.8 2235.1,531.1 2230.5,533.4 2227.4,533.0 2226.6,530.7 2222.7,530.7 2220.8,532.2 2218.0,531.1 2214.9,533.0 2211.1,534.5 2206.4,536.5 2202.5,538.4 2201.0,537.7 2201.7,534.9 2197.1,535.3 2195.5,533.4" fill="url(#mb)"/>
<polygon points="2194.8,523.3 2200.2,518.6 2205.6,518.2 2207.2,523.3 2214.9,521.7 2222.7,517.1 2230.5,511.6 2238.2,510.9 2246.0,512.0 2246.0,516.3 2249.1,518.2 2246.0,522.1 2240.6,524.8 2235.1,530.3 2228.5,531.8 2218.8,530.3 2211.1,533.4 2203.3,536.5 2196.3,534.2 2192.4,532.6" fill="#5ccfb4"/>
<polygon points="2194.8,523.3 2200.2,518.6 2205.6,518.2 2207.2,523.3 2214.9,521.7 2222.7,517.1 2230.5,511.6 2238.2,510.9 2246.0,512.0 2246.0,516.3 2249.1,518.2 2246.0,522.1 2240.6,524.8 2235.1,530.3 2228.5,531.8 2218.8,530.3 2211.1,533.4 2203.3,536.5 2196.3,534.2 2192.4,532.6" fill="url(#mt)"/>
<polygon points="2251.0,522.5 2255.3,520.2 2259.6,518.6 2263.1,516.3 2264.6,517.5 2260.7,520.2 2256.1,522.5 2252.2,522.9" fill="#62a8d6"/>
<polygon points="2251.0,522.5 2255.3,520.2 2259.6,518.6 2263.1,516.3 2264.6,517.5 2260.7,520.2 2256.1,522.5 2252.2,522.9" fill="url(#mb)"/>
<polygon points="2247.9,531.1 2251.0,528.0 2256.1,525.2 2260.0,522.5 2264.6,519.8 2267.7,519.0 2267.3,520.6 2263.5,523.3 2259.6,526.4 2255.7,529.5 2253.0,531.8 2248.7,532.6" fill="#62a8d6"/>
<polygon points="2247.9,531.1 2251.0,528.0 2256.1,525.2 2260.0,522.5 2264.6,519.8 2267.7,519.0 2267.3,520.6 2263.5,523.3 2259.6,526.4 2255.7,529.5 2253.0,531.8 2248.7,532.6" fill="url(#mb)"/>
<polygon points="2283.2,507.3 2286.3,504.2 2289.4,503.0 2291.7,504.2 2294.8,503.0 2297.2,500.3 2299.5,497.2 2303.0,495.2 2308.4,494.1 2311.1,494.5 2314.6,493.3 2318.1,492.1 2319.3,489.4 2321.2,486.7 2322.0,484.0 2320.5,481.6 2322.8,479.7 2328.2,478.9 2330.6,482.8 2329.0,486.3 2330.6,488.6 2329.8,491.7 2329.0,496.4 2327.5,498.7 2325.9,501.1 2327.8,501.4 2325.9,504.2 2326.7,505.7 2323.6,507.3 2320.5,509.6 2316.6,510.8 2314.3,510.4 2316.6,508.0 2319.7,504.9 2318.5,502.6 2316.6,501.8 2315.0,503.8 2311.9,503.0 2311.5,499.9 2309.2,498.0 2306.5,499.5 2304.9,503.4 2308.0,503.8 2310.8,504.9 2311.9,506.9 2308.8,509.6 2306.5,510.8 2304.9,510.0 2303.8,511.5 2301.8,508.8 2299.5,508.8 2298.0,510.4 2294.8,511.9 2291.7,513.5 2288.6,513.1 2285.5,513.5 2283.6,511.9 2284.0,510.4 2283.2,508.8" fill="#62a8d6"/>
<polygon points="2283.2,507.3 2286.3,504.2 2289.4,503.0 2291.7,504.2 2294.8,503.0 2297.2,500.3 2299.5,497.2 2303.0,495.2 2308.4,494.1 2311.1,494.5 2314.6,493.3 2318.1,492.1 2319.3,489.4 2321.2,486.7 2322.0,484.0 2320.5,481.6 2322.8,479.7 2328.2,478.9 2330.6,482.8 2329.0,486.3 2330.6,488.6 2329.8,491.7 2329.0,496.4 2327.5,498.7 2325.9,501.1 2327.8,501.4 2325.9,504.2 2326.7,505.7 2323.6,507.3 2320.5,509.6 2316.6,510.8 2314.3,510.4 2316.6,508.0 2319.7,504.9 2318.5,502.6 2316.6,501.8 2315.0,503.8 2311.9,503.0 2311.5,499.9 2309.2,498.0 2306.5,499.5 2304.9,503.4 2308.0,503.8 2310.8,504.9 2311.9,506.9 2308.8,509.6 2306.5,510.8 2304.9,510.0 2303.8,511.5 2301.8,508.8 2299.5,508.8 2298.0,510.4 2294.8,511.9 2291.7,513.5 2288.6,513.1 2285.5,513.5 2283.6,511.9 2284.0,510.4 2283.2,508.8" fill="url(#mb)"/>
<polygon points="2327.1,511.5 2329.0,510.4 2330.6,511.1 2329.0,512.3" fill="#62a8d6"/>
<polygon points="2327.1,511.5 2329.0,510.4 2330.6,511.1 2329.0,512.3" fill="url(#mb)"/>
<ellipse cx="2354.4" cy="493.5" rx="0.70" ry="0.70" fill="#62a8d6"/>
<polygon points="2320.2,481.4 2321.7,477.5 2324.1,474.8 2329.5,472.5 2334.2,471.3 2338.4,471.3 2341.9,472.5 2344.6,471.3 2348.9,469.4 2353.6,467.8 2357.5,467.0 2360.6,467.4 2363.7,468.2 2369.9,468.6 2373.8,470.5 2373.0,472.1 2371.4,473.2 2371.8,476.0 2369.1,477.1 2368.7,478.7 2365.2,479.1 2364.4,481.8 2361.3,483.0 2363.7,484.5 2363.7,486.1 2366.0,487.6 2362.1,488.0 2355.9,487.6 2354.0,488.8 2348.9,488.0 2345.0,488.0 2342.7,485.7 2340.4,483.7 2336.5,483.0 2331.8,483.7 2329.5,485.7 2328.7,484.5 2323.3,484.5" fill="#62a8d6"/>
<polygon points="2320.2,481.4 2321.7,477.5 2324.1,474.8 2329.5,472.5 2334.2,471.3 2338.4,471.3 2341.9,472.5 2344.6,471.3 2348.9,469.4 2353.6,467.8 2357.5,467.0 2360.6,467.4 2363.7,468.2 2369.9,468.6 2373.8,470.5 2373.0,472.1 2371.4,473.2 2371.8,476.0 2369.1,477.1 2368.7,478.7 2365.2,479.1 2364.4,481.8 2361.3,483.0 2363.7,484.5 2363.7,486.1 2366.0,487.6 2362.1,488.0 2355.9,487.6 2354.0,488.8 2348.9,488.0 2345.0,488.0 2342.7,485.7 2340.4,483.7 2336.5,483.0 2331.8,483.7 2329.5,485.7 2328.7,484.5 2323.3,484.5" fill="url(#mb)"/>
<polygon points="2390.3,443.8 2392.2,439.2 2394.9,438.0 2398.0,436.8 2400.8,438.4 2400.8,443.8 2398.8,445.4 2400.8,446.1 2401.1,450.4 2399.2,453.5 2400.8,455.0 2390.3,455.0 2388.0,453.5 2390.3,451.6 2390.3,447.7 2391.8,446.1" fill="#62a8d6"/>
<polygon points="2390.3,443.8 2392.2,439.2 2394.9,438.0 2398.0,436.8 2400.8,438.4 2400.8,443.8 2398.8,445.4 2400.8,446.1 2401.1,450.4 2399.2,453.5 2400.8,455.0 2390.3,455.0 2388.0,453.5 2390.3,451.6 2390.3,447.7 2391.8,446.1" fill="url(#mb)"/>
<polygon points="2398.8,446.1 2402.7,446.9 2407.4,446.9 2410.5,443.8 2411.6,436.1 2414.3,435.3 2415.9,432.2 2416.3,428.3 2419.0,428.3 2422.1,428.3 2425.2,429.1 2427.5,430.6 2426.0,432.2 2434.5,433.3 2434.5,434.9 2428.3,434.9 2427.5,437.2 2425.2,437.6 2422.9,437.2 2422.1,439.2 2424.8,440.7 2423.7,442.7 2421.3,443.4 2421.7,445.8 2417.8,446.9 2416.7,448.5 2412.0,449.3 2407.7,450.8 2402.7,450.0 2400.4,450.4" fill="#62a8d6"/>
<polygon points="2398.8,446.1 2402.7,446.9 2407.4,446.9 2410.5,443.8 2411.6,436.1 2414.3,435.3 2415.9,432.2 2416.3,428.3 2419.0,428.3 2422.1,428.3 2425.2,429.1 2427.5,430.6 2426.0,432.2 2434.5,433.3 2434.5,434.9 2428.3,434.9 2427.5,437.2 2425.2,437.6 2422.9,437.2 2422.1,439.2 2424.8,440.7 2423.7,442.7 2421.3,443.4 2421.7,445.8 2417.8,446.9 2416.7,448.5 2412.0,449.3 2407.7,450.8 2402.7,450.0 2400.4,450.4" fill="url(#mb)"/>
<polygon points="2427.5,419.4 2430.7,415.5 2436.1,411.6 2440.0,411.2 2442.7,411.6 2448.5,412.8 2453.2,412.4 2460.0,412.4 2460.0,430.6 2457.8,429.8 2455.5,427.1 2453.9,425.6 2449.3,424.0 2442.3,423.2 2441.5,426.7 2437.6,426.4 2435.3,428.3 2433.0,429.1 2430.7,427.9 2431.4,426.0 2429.5,425.2 2430.7,423.6 2427.5,422.5 2429.9,421.3" fill="#62a8d6"/>
<polygon points="2427.5,419.4 2430.7,415.5 2436.1,411.6 2440.0,411.2 2442.7,411.6 2448.5,412.8 2453.2,412.4 2460.0,412.4 2460.0,430.6 2457.8,429.8 2455.5,427.1 2453.9,425.6 2449.3,424.0 2442.3,423.2 2441.5,426.7 2437.6,426.4 2435.3,428.3 2433.0,429.1 2430.7,427.9 2431.4,426.0 2429.5,425.2 2430.7,423.6 2427.5,422.5 2429.9,421.3" fill="url(#mb)"/>
<polygon points="2440.0,412.0 2442.3,411.2 2447.0,412.4 2452.4,412.0 2461.0,412.4 2467.2,413.2 2469.5,415.1 2471.1,416.3 2475.7,417.4 2478.8,418.6 2482.7,420.1 2485.0,421.7 2487.0,422.9 2486.6,424.8 2485.0,426.7 2484.6,428.7 2486.6,429.8 2490.5,431.4 2492.8,431.8 2498.2,433.3 2503.7,435.3 2507.5,436.8 2507.9,439.2 2506.4,440.7 2503.7,440.3 2499.0,439.5 2497.1,439.2 2495.9,441.5 2497.8,442.3 2495.9,443.0 2491.2,443.0 2492.8,444.6 2489.7,444.6 2487.4,444.2 2485.0,444.6 2487.7,447.7 2485.8,447.7 2482.7,446.1 2479.6,446.9 2475.7,445.8 2472.6,444.2 2469.9,441.5 2467.2,439.9 2466.4,438.4 2469.1,438.0 2468.7,436.1 2467.2,433.7 2464.1,433.0 2459.4,431.4 2457.1,429.1 2454.8,426.7 2454.0,425.2 2451.6,424.4 2446.2,423.6 2442.3,423.2 2441.6,426.7 2440.0,426.7" fill="#62a8d6"/>
<polygon points="2440.0,412.0 2442.3,411.2 2447.0,412.4 2452.4,412.0 2461.0,412.4 2467.2,413.2 2469.5,415.1 2471.1,416.3 2475.7,417.4 2478.8,418.6 2482.7,420.1 2485.0,421.7 2487.0,422.9 2486.6,424.8 2485.0,426.7 2484.6,428.7 2486.6,429.8 2490.5,431.4 2492.8,431.8 2498.2,433.3 2503.7,435.3 2507.5,436.8 2507.9,439.2 2506.4,440.7 2503.7,440.3 2499.0,439.5 2497.1,439.2 2495.9,441.5 2497.8,442.3 2495.9,443.0 2491.2,443.0 2492.8,444.6 2489.7,444.6 2487.4,444.2 2485.0,444.6 2487.7,447.7 2485.8,447.7 2482.7,446.1 2479.6,446.9 2475.7,445.8 2472.6,444.2 2469.9,441.5 2467.2,439.9 2466.4,438.4 2469.1,438.0 2468.7,436.1 2467.2,433.7 2464.1,433.0 2459.4,431.4 2457.1,429.1 2454.8,426.7 2454.0,425.2 2451.6,424.4 2446.2,423.6 2442.3,423.2 2441.6,426.7 2440.0,426.7" fill="url(#mb)"/>
<ellipse cx="2456.5" cy="436.4" rx="0.70" ry="0.70" fill="#62a8d6"/>
<ellipse cx="2441.6" cy="428.5" rx="0.70" ry="0.70" fill="#62a8d6"/>
<polygon points="2264.9,421.7 2266.8,420.2 2269.9,418.0 2274.9,416.1 2278.6,414.9 2281.7,414.0 2284.2,413.0 2289.2,412.1 2292.9,412.1 2294.1,414.3 2296.6,414.3 2294.1,416.1 2290.4,418.0 2287.3,419.6 2283.6,421.1 2279.2,423.0 2273.6,423.6 2269.9,423.9 2267.4,423.0 2265.6,423.0" fill="#62a8d6"/>
<polygon points="2264.9,421.7 2266.8,420.2 2269.9,418.0 2274.9,416.1 2278.6,414.9 2281.7,414.0 2284.2,413.0 2289.2,412.1 2292.9,412.1 2294.1,414.3 2296.6,414.3 2294.1,416.1 2290.4,418.0 2287.3,419.6 2283.6,421.1 2279.2,423.0 2273.6,423.6 2269.9,423.9 2267.4,423.0 2265.6,423.0" fill="url(#mb)"/>
<polygon points="2448.9,640.2 2451.6,641.0 2454.0,643.0 2453.6,645.7 2456.3,646.1 2457.1,644.1 2459.4,644.5 2460.2,643.0 2463.3,642.2 2466.4,642.6 2469.5,642.2 2471.8,640.2 2474.2,638.3 2477.3,637.1 2479.6,638.7 2479.6,641.4 2477.3,643.0 2474.9,644.5 2472.6,646.4 2469.5,648.4 2467.2,649.9 2467.2,651.9 2464.8,654.6 2461.7,656.9 2459.4,657.7 2457.9,660.0 2456.3,663.1 2455.5,665.0 2450.1,665.0 2450.5,662.4 2453.2,660.0 2454.8,656.9 2456.3,654.6 2458.6,653.0 2461.7,651.5 2463.3,649.9 2461.7,647.2 2458.2,648.4 2456.7,650.7 2454.8,652.7 2452.4,652.3 2452.4,649.2 2450.9,646.8 2449.3,645.3" fill="#62a8d6"/>
<polygon points="2448.9,640.2 2451.6,641.0 2454.0,643.0 2453.6,645.7 2456.3,646.1 2457.1,644.1 2459.4,644.5 2460.2,643.0 2463.3,642.2 2466.4,642.6 2469.5,642.2 2471.8,640.2 2474.2,638.3 2477.3,637.1 2479.6,638.7 2479.6,641.4 2477.3,643.0 2474.9,644.5 2472.6,646.4 2469.5,648.4 2467.2,649.9 2467.2,651.9 2464.8,654.6 2461.7,656.9 2459.4,657.7 2457.9,660.0 2456.3,663.1 2455.5,665.0 2450.1,665.0 2450.5,662.4 2453.2,660.0 2454.8,656.9 2456.3,654.6 2458.6,653.0 2461.7,651.5 2463.3,649.9 2461.7,647.2 2458.2,648.4 2456.7,650.7 2454.8,652.7 2452.4,652.3 2452.4,649.2 2450.9,646.8 2449.3,645.3" fill="url(#mb)"/>
<polygon points="2474.9,632.1 2476.5,632.9 2477.3,634.8 2476.1,634.8" fill="#62a8d6"/>
<polygon points="2474.9,632.1 2476.5,632.9 2477.3,634.8 2476.1,634.8" fill="url(#mb)"/>
<polygon points="2481.1,634.0 2481.9,634.0 2481.9,636.0 2481.1,636.0" fill="#62a8d6"/>
<polygon points="2481.1,634.0 2481.9,634.0 2481.9,636.0 2481.1,636.0" fill="url(#mb)"/>
<polygon points="2483.9,627.0 2485.8,628.2 2485.4,628.6 2483.9,628.2" fill="#70bee6"/>
<polygon points="2486.6,652.3 2487.4,648.4 2488.5,646.1 2488.1,643.0 2487.4,639.8 2489.3,636.7 2489.3,634.4 2490.9,630.5 2492.4,628.2 2495.5,626.3 2497.5,625.5 2500.6,625.9 2502.9,625.1 2505.2,626.6 2508.3,629.0 2509.1,631.3 2510.7,633.6 2512.2,635.2 2513.8,636.7 2514.5,639.1 2516.9,641.4 2520.0,642.2 2523.1,643.7 2527.7,644.5 2529.3,648.4 2530.1,651.5 2527.7,651.9 2526.2,649.5 2523.1,648.4 2518.4,648.8 2514.5,649.5 2512.2,649.2 2509.1,650.3 2506.8,651.5 2503.7,653.8 2500.6,656.1 2498.2,656.1 2494.3,654.6 2492.0,653.0 2489.7,652.3 2487.7,654.6" fill="#62a8d6"/>
<polygon points="2486.6,652.3 2487.4,648.4 2488.5,646.1 2488.1,643.0 2487.4,639.8 2489.3,636.7 2489.3,634.4 2490.9,630.5 2492.4,628.2 2495.5,626.3 2497.5,625.5 2500.6,625.9 2502.9,625.1 2505.2,626.6 2508.3,629.0 2509.1,631.3 2510.7,633.6 2512.2,635.2 2513.8,636.7 2514.5,639.1 2516.9,641.4 2520.0,642.2 2523.1,643.7 2527.7,644.5 2529.3,648.4 2530.1,651.5 2527.7,651.9 2526.2,649.5 2523.1,648.4 2518.4,648.8 2514.5,649.5 2512.2,649.2 2509.1,650.3 2506.8,651.5 2503.7,653.8 2500.6,656.1 2498.2,656.1 2494.3,654.6 2492.0,653.0 2489.7,652.3 2487.7,654.6" fill="url(#mb)"/>
<polygon points="2501.3,669.8 2502.1,665.1 2504.4,661.6 2508.3,659.3 2511.4,658.5 2516.1,658.5 2520.7,657.3 2522.7,658.9 2522.3,661.2 2520.0,662.0 2520.7,664.3 2523.9,666.6 2527.7,670.5 2527.0,671.7 2523.1,672.1 2523.9,673.6 2521.5,674.4 2524.6,677.5 2525.4,679.8 2523.1,680.6 2520.7,679.1 2519.2,676.7 2516.1,673.6 2513.0,674.4 2510.7,675.2 2510.7,677.9 2508.3,677.9 2507.5,675.2 2506.0,676.7 2504.4,673.6 2503.7,670.5" fill="#62a8d6"/>
<polygon points="2501.3,669.8 2502.1,665.1 2504.4,661.6 2508.3,659.3 2511.4,658.5 2516.1,658.5 2520.7,657.3 2522.7,658.9 2522.3,661.2 2520.0,662.0 2520.7,664.3 2523.9,666.6 2527.7,670.5 2527.0,671.7 2523.1,672.1 2523.9,673.6 2521.5,674.4 2524.6,677.5 2525.4,679.8 2523.1,680.6 2520.7,679.1 2519.2,676.7 2516.1,673.6 2513.0,674.4 2510.7,675.2 2510.7,677.9 2508.3,677.9 2507.5,675.2 2506.0,676.7 2504.4,673.6 2503.7,670.5" fill="url(#mb)"/>
<polygon points="2511.4,695.4 2513.0,692.3 2514.5,689.2 2516.1,687.6 2517.6,688.0 2519.2,687.6 2521.5,687.2 2523.9,688.8 2529.3,689.2 2530.8,691.5 2530.1,694.6 2528.5,695.8 2523.9,695.4 2523.1,696.5 2520.0,695.8 2518.4,695.8 2516.1,695.0 2514.5,697.7 2512.2,698.1 2511.0,696.1" fill="#62a8d6"/>
<polygon points="2511.4,695.4 2513.0,692.3 2514.5,689.2 2516.1,687.6 2517.6,688.0 2519.2,687.6 2521.5,687.2 2523.9,688.8 2529.3,689.2 2530.8,691.5 2530.1,694.6 2528.5,695.8 2523.9,695.4 2523.1,696.5 2520.0,695.8 2518.4,695.8 2516.1,695.0 2514.5,697.7 2512.2,698.1 2511.0,696.1" fill="url(#mb)"/>
<polygon points="2450.1,663.9 2451.6,662.8 2454.8,660.4 2455.5,657.3 2457.1,655.0 2464.1,655.0 2461.7,657.3 2458.6,659.7 2457.1,662.8 2454.8,665.1 2453.2,667.0 2450.1,665.9" fill="#62a8d6"/>
<polygon points="2450.1,663.9 2451.6,662.8 2454.8,660.4 2455.5,657.3 2457.1,655.0 2464.1,655.0 2461.7,657.3 2458.6,659.7 2457.1,662.8 2454.8,665.1 2453.2,667.0 2450.1,665.9" fill="url(#mb)"/>
<polygon points="2471.1,663.9 2472.0,663.9 2472.0,667.8 2471.1,667.8" fill="#70bee6"/>
<polygon points="2395.1,649.9 2399.0,649.2 2402.1,649.5 2402.9,651.9 2406.8,652.3 2406.8,655.0 2399.0,655.0 2398.2,653.4 2395.1,652.7" fill="#62a8d6"/>
<polygon points="2395.1,649.9 2399.0,649.2 2402.1,649.5 2402.9,651.9 2406.8,652.3 2406.8,655.0 2399.0,655.0 2398.2,653.4 2395.1,652.7" fill="url(#mb)"/>
<polygon points="2413.0,655.4 2414.5,654.2 2416.1,655.0 2416.5,656.9 2417.6,658.5 2415.3,658.9 2413.0,657.7" fill="#62a8d6"/>
<polygon points="2413.0,655.4 2414.5,654.2 2416.1,655.0 2416.5,656.9 2417.6,658.5 2415.3,658.9 2413.0,657.7" fill="url(#mb)"/>
<polygon points="2395.9,654.0 2397.8,654.0 2397.8,654.8 2395.9,654.8" fill="#62a8d6"/>
<polygon points="2395.9,654.0 2397.8,654.0 2397.8,654.8 2395.9,654.8" fill="url(#mb)"/>
<polygon points="2394.0,689.9 2395.9,687.6 2398.2,687.2 2398.6,689.2 2398.2,691.5 2395.9,691.9 2394.3,691.1" fill="#62a8d6"/>
<polygon points="2394.0,689.9 2395.9,687.6 2398.2,687.2 2398.6,689.2 2398.2,691.5 2395.9,691.9 2394.3,691.1" fill="url(#mb)"/>
<polygon points="2397.1,682.6 2398.6,681.0 2399.0,681.8 2397.5,683.0" fill="#62a8d6"/>
<polygon points="2397.1,682.6 2398.6,681.0 2399.0,681.8 2397.5,683.0" fill="url(#mb)"/>
<polygon points="2441.9,714.1 2442.7,711.7 2445.0,709.8 2448.1,708.2 2452.8,708.2 2453.6,710.2 2455.9,708.6 2458.2,707.1 2460.6,707.9 2460.9,711.7 2462.1,713.3 2461.7,716.4 2458.2,716.8 2457.5,714.1 2454.3,713.7 2451.2,713.3 2449.7,714.1 2445.0,714.8" fill="#62a8d6"/>
<polygon points="2441.9,714.1 2442.7,711.7 2445.0,709.8 2448.1,708.2 2452.8,708.2 2453.6,710.2 2455.9,708.6 2458.2,707.1 2460.6,707.9 2460.9,711.7 2462.1,713.3 2461.7,716.4 2458.2,716.8 2457.5,714.1 2454.3,713.7 2451.2,713.3 2449.7,714.1 2445.0,714.8" fill="url(#mb)"/>
<polygon points="2465.9,711.5 2468.4,709.0 2469.9,710.2 2469.9,713.0 2470.9,714.3 2470.6,714.9 2467.1,713.7" fill="#62a8d6"/>
<polygon points="2465.9,711.5 2468.4,709.0 2469.9,710.2 2469.9,713.0 2470.9,714.3 2470.6,714.9 2467.1,713.7" fill="url(#mb)"/>
<polygon points="2504.1,730.4 2505.7,728.0 2506.6,727.3 2509.7,728.0 2510.0,732.6 2508.8,733.9 2504.4,733.9" fill="#62a8d6"/>
<polygon points="2504.1,730.4 2505.7,728.0 2506.6,727.3 2509.7,728.0 2510.0,732.6 2508.8,733.9 2504.4,733.9" fill="url(#mb)"/>
<polygon points="2403.9,834.5 2404.7,832.6 2407.0,831.8 2410.1,831.0 2411.6,831.8 2414.0,831.4 2416.3,829.8 2418.6,829.1 2421.7,829.1 2424.1,828.7 2427.2,829.1 2428.0,830.6 2430.3,831.4 2433.4,832.2 2436.5,832.2 2436.9,834.5 2435.7,836.1 2431.8,836.1 2428.7,836.1 2427.2,834.5 2424.1,833.7 2421.7,833.3 2421.0,831.4 2418.6,831.4 2415.5,833.0 2412.4,833.0 2409.3,832.6 2407.8,834.9 2404.7,835.3" fill="#62a8d6"/>
<polygon points="2403.9,834.5 2404.7,832.6 2407.0,831.8 2410.1,831.0 2411.6,831.8 2414.0,831.4 2416.3,829.8 2418.6,829.1 2421.7,829.1 2424.1,828.7 2427.2,829.1 2428.0,830.6 2430.3,831.4 2433.4,832.2 2436.5,832.2 2436.9,834.5 2435.7,836.1 2431.8,836.1 2428.7,836.1 2427.2,834.5 2424.1,833.7 2421.7,833.3 2421.0,831.4 2418.6,831.4 2415.5,833.0 2412.4,833.0 2409.3,832.6 2407.8,834.9 2404.7,835.3" fill="url(#mb)"/>
<polygon points="2483.3,839.6 2484.1,837.7 2487.2,837.3 2488.7,838.8 2488.7,840.4 2491.1,841.1 2494.2,841.1 2496.5,840.4 2500.0,841.1 2500.0,843.5 2497.3,845.0 2494.9,845.8 2491.8,845.8 2488.7,846.2 2487.2,846.6 2484.8,845.0 2484.1,842.7 2483.3,841.1" fill="#62a8d6"/>
<polygon points="2483.3,839.6 2484.1,837.7 2487.2,837.3 2488.7,838.8 2488.7,840.4 2491.1,841.1 2494.2,841.1 2496.5,840.4 2500.0,841.1 2500.0,843.5 2497.3,845.0 2494.9,845.8 2491.8,845.8 2488.7,846.2 2487.2,846.6 2484.8,845.0 2484.1,842.7 2483.3,841.1" fill="url(#mb)"/>
<polygon points="994.0,11.4 995.2,10.0 996.8,10.0 998.0,11.4 998.9,13.3 998.4,14.4 997.0,14.7 995.2,13.5" fill="#62a8d6"/>
<polygon points="994.0,11.4 995.2,10.0 996.8,10.0 998.0,11.4 998.9,13.3 998.4,14.4 997.0,14.7 995.2,13.5" fill="url(#mb)"/>
<polygon points="994.0,16.3 994.9,15.1 998.9,15.1 1000.0,15.4 999.1,17.9 994.2,17.9" fill="#62a8d6"/>
<polygon points="994.0,16.3 994.9,15.1 998.9,15.1 1000.0,15.4 999.1,17.9 994.2,17.9" fill="url(#mb)"/>
<ellipse cx="2185.8" cy="525.0" rx="1.16" ry="0.97" fill="#62a8d6"/>
<polygon points="2188.2,528.3 2190.9,525.2 2192.8,524.1 2192.4,525.6 2189.7,528.7" fill="#5ccfb4"/>
<polygon points="2188.2,528.3 2190.9,525.2 2192.8,524.1 2192.4,525.6 2189.7,528.7" fill="url(#mt)"/>
<polygon points="2276.3,520.2 2278.6,517.9 2280.0,517.1 2280.0,518.6 2277.4,520.6" fill="#5ccfb4"/>
<polygon points="2276.3,520.2 2278.6,517.9 2280.0,517.1 2280.0,518.6 2277.4,520.6" fill="url(#mt)"/>
<polygon points="2284.8,508.8 2287.9,504.9 2297.2,501.1 2303.0,496.4 2316.6,494.1 2320.5,486.3 2324.3,481.6 2328.2,482.4 2329.0,493.3 2325.9,503.4 2320.5,508.0 2316.6,509.2 2319.7,504.2 2316.6,501.1 2311.9,499.5 2307.3,501.8 2310.4,505.7 2306.5,508.8 2297.2,510.4 2289.4,512.3 2285.5,511.9" fill="#5ccfb4"/>
<polygon points="2284.8,508.8 2287.9,504.9 2297.2,501.1 2303.0,496.4 2316.6,494.1 2320.5,486.3 2324.3,481.6 2328.2,482.4 2329.0,493.3 2325.9,503.4 2320.5,508.0 2316.6,509.2 2319.7,504.2 2316.6,501.1 2311.9,499.5 2307.3,501.8 2310.4,505.7 2306.5,508.8 2297.2,510.4 2289.4,512.3 2285.5,511.9" fill="url(#mt)"/>
<polygon points="2330.2,517.7 2332.9,514.3 2334.8,516.6 2334.4,517.7 2332.1,518.5" fill="#5ccfb4"/>
<polygon points="2330.2,517.7 2332.9,514.3 2334.8,516.6 2334.4,517.7 2332.1,518.5" fill="url(#mt)"/>
<polygon points="2277.0,518.9 2280.1,516.2 2283.6,515.0 2284.0,516.6 2280.5,518.1 2278.5,520.0" fill="#5ccfb4"/>
<polygon points="2277.0,518.9 2280.1,516.2 2283.6,515.0 2284.0,516.6 2280.5,518.1 2278.5,520.0" fill="url(#mt)"/>
<polygon points="2321.7,477.5 2324.1,474.8 2329.5,472.5 2334.2,471.3 2338.4,471.3 2341.1,473.2 2340.4,476.7 2338.8,479.8 2335.7,482.2 2331.1,483.0 2327.2,482.2 2323.3,479.8" fill="#5ccfb4"/>
<polygon points="2321.7,477.5 2324.1,474.8 2329.5,472.5 2334.2,471.3 2338.4,471.3 2341.1,473.2 2340.4,476.7 2338.8,479.8 2335.7,482.2 2331.1,483.0 2327.2,482.2 2323.3,479.8" fill="url(#mt)"/>
<polygon points="2338.8,481.4 2342.7,479.8 2346.6,479.8 2346.6,486.1 2342.7,484.5" fill="#5ccfb4"/>
<polygon points="2338.8,481.4 2342.7,479.8 2346.6,479.8 2346.6,486.1 2342.7,484.5" fill="url(#mt)"/>
<polygon points="2426.8,432.2 2434.5,433.3 2434.5,434.9 2426.8,434.9" fill="#5ccfb4"/>
<polygon points="2426.8,432.2 2434.5,433.3 2434.5,434.9 2426.8,434.9" fill="url(#mt)"/>
<polygon points="2431.4,416.6 2437.6,413.9 2449.3,415.1 2460.0,415.1 2460.0,428.3 2455.5,425.2 2449.3,422.1 2441.5,422.1 2433.8,424.4 2430.7,421.3" fill="#5ccfb4"/>
<polygon points="2431.4,416.6 2437.6,413.9 2449.3,415.1 2460.0,415.1 2460.0,428.3 2455.5,425.2 2449.3,422.1 2441.5,422.1 2433.8,424.4 2430.7,421.3" fill="url(#mt)"/>
<polygon points="2443.1,429.8 2445.4,428.3 2447.7,429.5 2448.9,431.4 2446.2,432.2 2443.9,431.4" fill="#5ccfb4"/>
<polygon points="2443.1,429.8 2445.4,428.3 2447.7,429.5 2448.9,431.4 2446.2,432.2 2443.9,431.4" fill="url(#mt)"/>
<polygon points="2440.0,434.1 2443.5,434.1 2443.5,434.9 2440.0,434.9" fill="#5ccfb4"/>
<polygon points="2440.0,434.1 2443.5,434.1 2443.5,434.9 2440.0,434.9" fill="url(#mt)"/>
<polygon points="2451.2,434.9 2455.1,434.9 2455.1,435.9 2451.2,435.9" fill="#5ccfb4"/>
<polygon points="2451.2,434.9 2455.1,434.9 2455.1,435.9 2451.2,435.9" fill="url(#mt)"/>
<polygon points="2427.2,421.7 2429.5,421.7 2429.5,423.2 2427.2,423.2" fill="#5ccfb4"/>
<polygon points="2427.2,421.7 2429.5,421.7 2429.5,423.2 2427.2,423.2" fill="url(#mt)"/>
<polygon points="2429.1,424.8 2431.4,424.8 2431.4,426.0 2429.1,426.0" fill="#5ccfb4"/>
<polygon points="2429.1,424.8 2431.4,424.8 2431.4,426.0 2429.1,426.0" fill="url(#mt)"/>
<polygon points="2429.1,427.1 2431.4,427.1 2431.4,428.1 2429.1,428.1" fill="#5ccfb4"/>
<polygon points="2429.1,427.1 2431.4,427.1 2431.4,428.1 2429.1,428.1" fill="url(#mt)"/>
<polygon points="2440.0,414.7 2447.8,413.5 2459.4,413.9 2467.2,416.6 2473.4,420.5 2474.9,424.4 2471.8,428.3 2463.3,432.2 2455.5,428.3 2451.6,424.4 2440.0,423.6" fill="#5ccfb4"/>
<polygon points="2440.0,414.7 2447.8,413.5 2459.4,413.9 2467.2,416.6 2473.4,420.5 2474.9,424.4 2471.8,428.3 2463.3,432.2 2455.5,428.3 2451.6,424.4 2440.0,423.6" fill="url(#mt)"/>
<polygon points="2478.8,432.2 2484.6,434.5 2490.5,436.1 2496.7,438.4 2495.9,442.3 2486.6,443.8 2478.8,439.9" fill="#5ccfb4"/>
<polygon points="2478.8,432.2 2484.6,434.5 2490.5,436.1 2496.7,438.4 2495.9,442.3 2486.6,443.8 2478.8,439.9" fill="url(#mt)"/>
<polygon points="2443.1,429.8 2444.7,428.3 2447.8,429.5 2449.3,431.4 2447.8,433.0 2445.0,432.2" fill="#5ccfb4"/>
<polygon points="2443.1,429.8 2444.7,428.3 2447.8,429.5 2449.3,431.4 2447.8,433.0 2445.0,432.2" fill="url(#mt)"/>
<polygon points="2440.0,433.7 2443.9,433.7 2443.9,434.9 2440.0,434.9" fill="#5ccfb4"/>
<polygon points="2440.0,433.7 2443.9,433.7 2443.9,434.9 2440.0,434.9" fill="url(#mt)"/>
<polygon points="2451.3,434.9 2455.1,434.9 2455.1,435.9 2451.3,435.9" fill="#5ccfb4"/>
<polygon points="2451.3,434.9 2455.1,434.9 2455.1,435.9 2451.3,435.9" fill="url(#mt)"/>
<polygon points="2480.4,450.0 2483.5,450.4 2485.8,450.0 2488.9,451.2 2488.5,453.1 2487.0,453.9 2483.5,452.7 2481.1,451.2" fill="#5ccfb4"/>
<polygon points="2480.4,450.0 2483.5,450.4 2485.8,450.0 2488.9,451.2 2488.5,453.1 2487.0,453.9 2483.5,452.7 2481.1,451.2" fill="url(#mt)"/>
<polygon points="2267.4,421.1 2273.6,417.4 2283.0,414.9 2290.7,413.7 2289.2,417.4 2283.0,420.5 2276.7,422.4 2269.0,422.7" fill="#5ccfb4"/>
<polygon points="2267.4,421.1 2273.6,417.4 2283.0,414.9 2290.7,413.7 2289.2,417.4 2283.0,420.5 2276.7,422.4 2269.0,422.7" fill="url(#mt)"/>
<polygon points="2300.0,431.1 2303.4,430.1 2307.8,429.8 2309.0,428.9 2310.0,429.8 2308.4,431.1 2308.1,432.0 2312.8,432.0 2312.8,432.9 2309.0,433.5 2307.8,434.2 2308.4,435.1 2313.4,434.2 2314.0,434.8 2311.8,437.0 2309.0,437.3 2308.4,438.2 2302.2,438.2 2302.2,435.7 2303.8,433.5 2301.6,432.6" fill="#5ccfb4"/>
<polygon points="2300.0,431.1 2303.4,430.1 2307.8,429.8 2309.0,428.9 2310.0,429.8 2308.4,431.1 2308.1,432.0 2312.8,432.0 2312.8,432.9 2309.0,433.5 2307.8,434.2 2308.4,435.1 2313.4,434.2 2314.0,434.8 2311.8,437.0 2309.0,437.3 2308.4,438.2 2302.2,438.2 2302.2,435.7 2303.8,433.5 2301.6,432.6" fill="url(#mt)"/>
<polygon points="2463.3,644.5 2471.1,642.2 2477.3,639.1 2478.8,640.6 2474.2,644.5 2467.2,649.2 2464.8,652.3 2459.4,656.1 2456.3,658.5 2457.1,655.4 2461.7,652.3 2464.1,649.2" fill="#70bee6" fill-opacity="0.7"/>
<polygon points="2500.2,621.2 2501.7,622.8 2502.1,624.7 2500.6,623.9" fill="#5ccfb4"/>
<polygon points="2500.2,621.2 2501.7,622.8 2502.1,624.7 2500.6,623.9" fill="url(#mt)"/>
<polygon points="2488.1,648.4 2490.5,646.8 2494.3,648.4 2498.2,649.9 2502.1,649.2 2503.7,652.3 2499.0,654.6 2494.3,653.0 2490.5,651.5" fill="#5ccfb4" fill-opacity="0.6"/>
<polygon points="2490.5,631.3 2494.3,627.8 2498.2,626.6 2499.8,629.0 2498.2,632.1 2494.3,631.3" fill="#5ccfb4" fill-opacity="0.6"/>
<polygon points="2530.1,665.1 2531.6,665.9 2533.2,667.0 2530.8,669.8 2530.1,669.4 2531.6,667.0 2530.1,666.3" fill="#5ccfb4"/>
<polygon points="2530.1,665.1 2531.6,665.9 2533.2,667.0 2530.8,669.8 2530.1,669.4 2531.6,667.0 2530.1,666.3" fill="url(#mt)"/>
<polygon points="2400.2,692.1 2401.7,692.1 2401.7,692.8 2400.2,692.8" fill="#5ccfb4"/>
<polygon points="2400.2,692.1 2401.7,692.1 2401.7,692.8 2400.2,692.8" fill="url(#mt)"/>
<polygon points="2400.0,691.9 2401.9,691.9 2401.9,692.9 2400.0,692.9" fill="#5ccfb4"/>
<polygon points="2400.0,691.9 2401.9,691.9 2401.9,692.9 2400.0,692.9" fill="url(#mt)"/>
<polygon points="2466.8,711.5 2468.4,709.3 2469.3,711.8 2468.1,712.4" fill="#5ccfb4"/>
<polygon points="2466.8,711.5 2468.4,709.3 2469.3,711.8 2468.1,712.4" fill="url(#mt)"/>
<polygon points="2482.9,834.2 2485.6,831.1 2488.7,828.7 2491.8,828.3 2494.9,828.7 2498.8,828.3 2502.7,827.2 2506.6,826.4 2508.5,826.4 2510.5,827.2 2514.3,825.6 2515.9,825.2 2517.1,826.8 2514.3,828.3 2511.2,829.9 2508.1,831.1 2505.8,832.6 2502.7,831.8 2500.4,831.1 2497.3,832.2 2496.5,834.5 2493.4,836.5 2491.8,837.7 2491.1,834.9 2489.5,834.2 2487.2,833.4 2484.1,834.5" fill="#5ccfb4"/>
<polygon points="2482.9,834.2 2485.6,831.1 2488.7,828.7 2491.8,828.3 2494.9,828.7 2498.8,828.3 2502.7,827.2 2506.6,826.4 2508.5,826.4 2510.5,827.2 2514.3,825.6 2515.9,825.2 2517.1,826.8 2514.3,828.3 2511.2,829.9 2508.1,831.1 2505.8,832.6 2502.7,831.8 2500.4,831.1 2497.3,832.2 2496.5,834.5 2493.4,836.5 2491.8,837.7 2491.1,834.9 2489.5,834.2 2487.2,833.4 2484.1,834.5" fill="url(#mt)"/>
<polygon points="2471.3,843.5 2473.2,840.4 2474.8,838.4 2477.1,837.3 2481.7,837.3 2480.2,840.4 2477.9,841.9 2476.3,843.9 2472.4,843.9" fill="#5ccfb4"/>
<polygon points="2471.3,843.5 2473.2,840.4 2474.8,838.4 2477.1,837.3 2481.7,837.3 2480.2,840.4 2477.9,841.9 2476.3,843.9 2472.4,843.9" fill="url(#mt)"/>
<polygon points="2276.2,767.1 2278.3,765.5 2280.7,768.0 2283.3,765.9 2285.3,766.7 2282.3,770.0 2279.3,770.4" fill="#5ccfb4"/>
<polygon points="2276.2,767.1 2278.3,765.5 2280.7,768.0 2283.3,765.9 2285.3,766.7 2282.3,770.0 2279.3,770.4" fill="url(#mt)"/>
<polygon points="2191.6,533.0 2195.5,524.1 2199.4,519.4 2204.8,520.2 2204.8,523.3 2210.3,526.4 2214.9,526.4 2222.7,522.1 2228.5,516.7 2233.6,513.6 2238.2,513.2 2242.1,514.8 2246.0,516.3 2248.7,518.2 2246.0,521.0 2240.6,522.5 2236.3,521.7 2230.5,526.4 2224.6,528.0 2218.8,529.5 2213.0,532.2 2207.2,534.2 2202.5,533.4 2197.5,532.2" fill="#14d424"/>
<polygon points="2191.6,533.0 2195.5,524.1 2199.4,519.4 2204.8,520.2 2204.8,523.3 2210.3,526.4 2214.9,526.4 2222.7,522.1 2228.5,516.7 2233.6,513.6 2238.2,513.2 2242.1,514.8 2246.0,516.3 2248.7,518.2 2246.0,521.0 2240.6,522.5 2236.3,521.7 2230.5,526.4 2224.6,528.0 2218.8,529.5 2213.0,532.2 2207.2,534.2 2202.5,533.4 2197.5,532.2" fill="url(#mg)"/>
<polygon points="2185.4,524.8 2189.7,519.8 2194.8,514.0 2195.9,515.1 2191.6,520.2 2186.6,525.6" fill="#3ee070"/>
<polygon points="2256.1,521.0 2259.6,519.0 2263.1,517.1 2261.5,519.4 2257.6,521.4" fill="#14d424"/>
<polygon points="2256.1,521.0 2259.6,519.0 2263.1,517.1 2261.5,519.4 2257.6,521.4" fill="url(#mg)"/>
<polygon points="2249.1,531.1 2251.4,528.3 2255.7,526.8 2255.3,529.5 2252.2,531.8" fill="#14d424"/>
<polygon points="2249.1,531.1 2251.4,528.3 2255.7,526.8 2255.3,529.5 2252.2,531.8" fill="url(#mg)"/>
<polygon points="2258.8,524.1 2261.5,522.5 2261.1,524.5 2258.8,525.6" fill="#14d424"/>
<polygon points="2258.8,524.1 2261.5,522.5 2261.1,524.5 2258.8,525.6" fill="url(#mg)"/>
<polygon points="2286.3,508.8 2288.6,505.7 2294.1,503.8 2297.2,501.1 2300.3,498.0 2304.2,496.4 2307.3,496.4 2311.9,495.2 2316.6,494.1 2320.5,492.5 2321.6,489.4 2322.4,486.7 2325.1,486.3 2326.7,488.6 2327.5,491.7 2326.7,494.8 2325.1,498.7 2324.3,501.1 2325.1,503.4 2322.4,504.2 2320.5,503.4 2318.9,501.1 2316.6,499.5 2312.7,498.7 2310.4,496.8 2305.7,498.0 2304.2,501.1 2303.4,504.2 2299.5,507.3 2296.4,508.0 2294.1,510.4 2291.0,511.1 2287.9,510.4" fill="#14d424"/>
<polygon points="2286.3,508.8 2288.6,505.7 2294.1,503.8 2297.2,501.1 2300.3,498.0 2304.2,496.4 2307.3,496.4 2311.9,495.2 2316.6,494.1 2320.5,492.5 2321.6,489.4 2322.4,486.7 2325.1,486.3 2326.7,488.6 2327.5,491.7 2326.7,494.8 2325.1,498.7 2324.3,501.1 2325.1,503.4 2322.4,504.2 2320.5,503.4 2318.9,501.1 2316.6,499.5 2312.7,498.7 2310.4,496.8 2305.7,498.0 2304.2,501.1 2303.4,504.2 2299.5,507.3 2296.4,508.0 2294.1,510.4 2291.0,511.1 2287.9,510.4" fill="url(#mg)"/>
<polygon points="2304.9,509.6 2306.5,508.0 2308.8,508.4 2307.3,510.4" fill="#14d424"/>
<polygon points="2304.9,509.6 2306.5,508.0 2308.8,508.4 2307.3,510.4" fill="url(#mg)"/>
<polygon points="2329.0,511.5 2332.1,508.4 2338.3,505.7 2342.2,503.4 2346.1,501.8 2350.0,502.2 2346.9,504.9 2342.2,507.3 2338.3,509.6 2334.4,512.3 2332.1,513.1 2329.8,512.3" fill="#14d424"/>
<polygon points="2329.0,511.5 2332.1,508.4 2338.3,505.7 2342.2,503.4 2346.1,501.8 2350.0,502.2 2346.9,504.9 2342.2,507.3 2338.3,509.6 2334.4,512.3 2332.1,513.1 2329.8,512.3" fill="url(#mg)"/>
<polygon points="2331.3,516.6 2332.9,514.6 2333.7,516.2" fill="#14d424"/>
<polygon points="2331.3,516.6 2332.9,514.6 2333.7,516.2" fill="url(#mg)"/>
<polygon points="2345.8,476.7 2346.6,473.2 2349.7,469.8 2354.3,468.2 2358.2,467.8 2363.7,469.4 2369.9,470.1 2371.4,472.9 2368.3,476.0 2365.2,478.3 2363.7,481.8 2360.6,483.7 2355.1,486.1 2349.7,487.6 2345.8,487.2 2343.5,484.5 2346.6,482.2" fill="#14d424"/>
<polygon points="2345.8,476.7 2346.6,473.2 2349.7,469.8 2354.3,468.2 2358.2,467.8 2363.7,469.4 2369.9,470.1 2371.4,472.9 2368.3,476.0 2365.2,478.3 2363.7,481.8 2360.6,483.7 2355.1,486.1 2349.7,487.6 2345.8,487.2 2343.5,484.5 2346.6,482.2" fill="url(#mg)"/>
<polygon points="2322.5,482.2 2324.8,479.8 2327.2,480.6 2328.7,483.0 2327.2,484.5 2323.3,484.5" fill="#14d424"/>
<polygon points="2322.5,482.2 2324.8,479.8 2327.2,480.6 2328.7,483.0 2327.2,484.5 2323.3,484.5" fill="url(#mg)"/>
<polygon points="2334.9,479.8 2338.8,478.3 2342.7,480.2 2338.8,482.2" fill="#3ee070"/>
<polygon points="2405.8,448.5 2410.5,446.9 2412.0,443.0 2414.3,440.7 2412.8,437.2 2415.9,436.1 2416.7,431.4 2419.0,429.1 2424.1,429.1 2426.0,431.4 2427.5,434.5 2425.2,436.8 2422.1,438.4 2421.3,440.7 2420.6,443.8 2416.7,446.1 2412.8,448.5 2408.1,449.3" fill="#14d424"/>
<polygon points="2405.8,448.5 2410.5,446.9 2412.0,443.0 2414.3,440.7 2412.8,437.2 2415.9,436.1 2416.7,431.4 2419.0,429.1 2424.1,429.1 2426.0,431.4 2427.5,434.5 2425.2,436.8 2422.1,438.4 2421.3,440.7 2420.6,443.8 2416.7,446.1 2412.8,448.5 2408.1,449.3" fill="url(#mg)"/>
<polygon points="2422.1,439.9 2424.4,440.7 2422.9,442.3 2421.3,442.3" fill="#14d424"/>
<polygon points="2422.1,439.9 2424.4,440.7 2422.9,442.3 2421.3,442.3" fill="url(#mg)"/>
<polygon points="2392.2,445.4 2394.2,439.2 2398.8,438.4 2398.8,445.8 2397.3,447.7 2398.8,455.0 2391.8,455.0 2391.8,450.8 2392.2,447.7" fill="#14d424"/>
<polygon points="2392.2,445.4 2394.2,439.2 2398.8,438.4 2398.8,445.8 2397.3,447.7 2398.8,455.0 2391.8,455.0 2391.8,450.8 2392.2,447.7" fill="url(#mg)"/>
<polygon points="2431.4,426.7 2432.2,422.9 2436.1,422.5 2439.6,423.6 2437.6,426.0 2433.8,428.7" fill="#14d424"/>
<polygon points="2431.4,426.7 2432.2,422.9 2436.1,422.5 2439.6,423.6 2437.6,426.0 2433.8,428.7" fill="url(#mg)"/>
<polygon points="2456.3,422.9 2460.0,421.3 2460.0,429.1 2457.0,426.7" fill="#3ee070"/>
<polygon points="2444.6,435.3 2447.0,433.7 2449.3,433.7 2450.1,435.7 2447.0,436.1" fill="#14d424"/>
<polygon points="2444.6,435.3 2447.0,433.7 2449.3,433.7 2450.1,435.7 2447.0,436.1" fill="url(#mg)"/>
<ellipse cx="2365.0" cy="454.3" rx="1.16" ry="0.78" fill="#14d424"/>
<polygon points="2440.0,416.6 2445.8,415.9 2456.3,416.6 2454.8,421.3 2447.8,421.7 2440.0,421.3" fill="#3ee070" fill-opacity="0.6"/>
<polygon points="2455.5,426.0 2458.6,423.2 2463.3,422.1 2468.0,424.0 2472.2,427.9 2471.1,429.8 2467.2,431.4 2461.7,430.6 2457.9,429.1" fill="#14d424"/>
<polygon points="2455.5,426.0 2458.6,423.2 2463.3,422.1 2468.0,424.0 2472.2,427.9 2471.1,429.8 2467.2,431.4 2461.7,430.6 2457.9,429.1" fill="url(#mg)"/>
<polygon points="2468.0,438.4 2470.3,435.3 2474.2,434.5 2478.8,435.7 2481.9,437.2 2486.6,438.4 2490.5,439.9 2490.5,443.4 2488.1,444.6 2484.3,443.8 2480.4,446.1 2477.3,446.1 2473.4,444.2 2470.3,441.5" fill="#14d424"/>
<polygon points="2468.0,438.4 2470.3,435.3 2474.2,434.5 2478.8,435.7 2481.9,437.2 2486.6,438.4 2490.5,439.9 2490.5,443.4 2488.1,444.6 2484.3,443.8 2480.4,446.1 2477.3,446.1 2473.4,444.2 2470.3,441.5" fill="url(#mg)"/>
<polygon points="2491.2,436.1 2494.3,435.7 2495.9,437.6 2492.8,438.4" fill="#3ee070"/>
<polygon points="2444.3,435.7 2446.2,434.1 2448.9,433.3 2450.5,434.5 2449.3,436.1 2445.0,436.1" fill="#14d424"/>
<polygon points="2444.3,435.7 2446.2,434.1 2448.9,433.3 2450.5,434.5 2449.3,436.1 2445.0,436.1" fill="url(#mg)"/>
<polygon points="2483.5,451.6 2485.8,450.8 2487.4,452.4 2485.0,452.7" fill="#14d424"/>
<polygon points="2483.5,451.6 2485.8,450.8 2487.4,452.4 2485.0,452.7" fill="url(#mg)"/>
<polygon points="2271.1,421.7 2272.4,419.3 2276.1,418.0 2278.6,418.6 2278.9,421.1 2276.7,423.0 2272.4,423.3" fill="#14d424"/>
<polygon points="2271.1,421.7 2272.4,419.3 2276.1,418.0 2278.6,418.6 2278.9,421.1 2276.7,423.0 2272.4,423.3" fill="url(#mg)"/>
<polygon points="2283.0,419.9 2286.1,418.6 2289.2,418.0 2287.6,419.6 2284.5,420.5" fill="#3ee070"/>
<polygon points="2300.0,431.1 2303.4,430.1 2305.9,430.4 2305.3,432.6 2302.2,432.9" fill="#14d424"/>
<polygon points="2300.0,431.1 2303.4,430.1 2305.9,430.4 2305.3,432.6 2302.2,432.9" fill="url(#mg)"/>
<polygon points="2500.2,628.6 2503.7,627.4 2507.5,628.6 2508.3,631.3 2506.8,633.6 2503.7,635.2 2500.6,635.2 2499.8,632.1" fill="#14d424"/>
<polygon points="2500.2,628.6 2503.7,627.4 2507.5,628.6 2508.3,631.3 2506.8,633.6 2503.7,635.2 2500.6,635.2 2499.8,632.1" fill="url(#mg)"/>
<polygon points="2490.5,635.2 2492.8,630.5 2495.1,630.5 2495.9,633.6 2498.2,635.2 2499.8,637.5 2498.2,639.8 2495.5,639.8 2492.0,640.6 2489.7,639.8" fill="#14d424"/>
<polygon points="2490.5,635.2 2492.8,630.5 2495.1,630.5 2495.9,633.6 2498.2,635.2 2499.8,637.5 2498.2,639.8 2495.5,639.8 2492.0,640.6 2489.7,639.8" fill="url(#mg)"/>
<polygon points="2505.2,645.3 2506.8,643.0 2509.9,640.2 2509.9,637.5 2512.2,637.1 2513.8,639.8 2514.5,642.2 2517.6,642.2 2519.2,644.5 2517.6,646.1 2514.5,646.1 2512.2,648.0 2509.1,649.2 2506.8,648.0" fill="#14d424"/>
<polygon points="2505.2,645.3 2506.8,643.0 2509.9,640.2 2509.9,637.5 2512.2,637.1 2513.8,639.8 2514.5,642.2 2517.6,642.2 2519.2,644.5 2517.6,646.1 2514.5,646.1 2512.2,648.0 2509.1,649.2 2506.8,648.0" fill="url(#mg)"/>
<polygon points="2521.5,645.3 2523.9,644.1 2526.2,645.3 2525.4,648.4 2522.3,648.4" fill="#14d424"/>
<polygon points="2521.5,645.3 2523.9,644.1 2526.2,645.3 2525.4,648.4 2522.3,648.4" fill="url(#mg)"/>
<polygon points="2527.0,648.0 2529.3,648.0 2530.1,651.5 2527.7,651.9" fill="#14d424"/>
<polygon points="2527.0,648.0 2529.3,648.0 2530.1,651.5 2527.7,651.9" fill="url(#mg)"/>
<polygon points="2523.1,653.8 2524.6,653.0 2527.7,653.8 2530.1,653.8 2530.8,656.1 2530.8,658.9 2528.5,658.5 2527.0,656.1 2524.6,656.1 2523.1,655.4" fill="#14d424"/>
<polygon points="2523.1,653.8 2524.6,653.0 2527.7,653.8 2530.1,653.8 2530.8,656.1 2530.8,658.9 2528.5,658.5 2527.0,656.1 2524.6,656.1 2523.1,655.4" fill="url(#mg)"/>
<polygon points="2502.9,668.2 2504.4,664.7 2506.8,662.0 2512.2,659.7 2517.6,658.9 2520.0,662.0 2520.7,665.1 2523.9,668.2 2526.2,670.9 2521.5,672.1 2516.1,672.5 2512.2,673.6 2508.3,673.6 2505.2,671.7" fill="#14d424"/>
<polygon points="2502.9,668.2 2504.4,664.7 2506.8,662.0 2512.2,659.7 2517.6,658.9 2520.0,662.0 2520.7,665.1 2523.9,668.2 2526.2,670.9 2521.5,672.1 2516.1,672.5 2512.2,673.6 2508.3,673.6 2505.2,671.7" fill="url(#mg)"/>
<polygon points="2519.2,675.2 2520.7,674.4 2523.9,676.7 2525.4,679.1 2523.5,680.2 2520.7,678.3" fill="#14d424"/>
<polygon points="2519.2,675.2 2520.7,674.4 2523.9,676.7 2525.4,679.1 2523.5,680.2 2520.7,678.3" fill="url(#mg)"/>
<polygon points="2512.2,695.4 2513.8,692.3 2515.3,689.2 2517.6,688.8 2517.6,693.0 2516.1,694.6 2513.8,697.3" fill="#14d424"/>
<polygon points="2512.2,695.4 2513.8,692.3 2515.3,689.2 2517.6,688.8 2517.6,693.0 2516.1,694.6 2513.8,697.3" fill="url(#mg)"/>
<polygon points="2519.2,689.9 2520.7,688.0 2523.9,689.2 2528.5,689.9 2530.1,692.3 2528.5,695.0 2523.9,695.0 2520.0,694.6" fill="#14d424"/>
<polygon points="2519.2,689.9 2520.7,688.0 2523.9,689.2 2528.5,689.9 2530.1,692.3 2528.5,695.0 2523.9,695.0 2520.0,694.6" fill="url(#mg)"/>
<polygon points="2399.0,652.7 2406.8,652.7 2406.8,655.0 2399.0,655.0" fill="#14d424"/>
<polygon points="2399.0,652.7 2406.8,652.7 2406.8,655.0 2399.0,655.0" fill="url(#mg)"/>
<polygon points="2410.3,649.2 2411.4,648.0 2414.5,648.0 2416.1,649.9 2416.9,651.5 2413.4,651.9 2410.7,650.3" fill="#14d424"/>
<polygon points="2410.3,649.2 2411.4,648.0 2414.5,648.0 2416.1,649.9 2416.9,651.5 2413.4,651.9 2410.7,650.3" fill="url(#mg)"/>
<polygon points="2413.0,655.4 2414.5,654.6 2415.3,656.1 2413.8,657.7" fill="#14d424"/>
<polygon points="2413.0,655.4 2414.5,654.6 2415.3,656.1 2413.8,657.7" fill="url(#mg)"/>
<polygon points="2385.0,690.3 2387.4,689.2 2387.4,687.6 2388.9,685.3 2390.5,684.9 2390.9,686.8 2389.3,688.4 2390.1,689.9 2392.0,690.3 2390.5,691.5 2390.5,693.0 2388.9,693.8 2388.1,693.0 2387.4,691.5" fill="#14d424"/>
<polygon points="2385.0,690.3 2387.4,689.2 2387.4,687.6 2388.9,685.3 2390.5,684.9 2390.9,686.8 2389.3,688.4 2390.1,689.9 2392.0,690.3 2390.5,691.5 2390.5,693.0 2388.9,693.8 2388.1,693.0 2387.4,691.5" fill="url(#mg)"/>
<polygon points="2394.3,689.9 2396.3,688.0 2397.8,688.8 2397.5,690.7 2395.5,691.1" fill="#14d424"/>
<polygon points="2394.3,689.9 2396.3,688.0 2397.8,688.8 2397.5,690.7 2395.5,691.1" fill="url(#mg)"/>
<polygon points="2442.7,713.3 2445.0,710.6 2448.9,708.2 2452.4,709.4 2452.0,711.7 2448.9,713.3 2445.0,714.5" fill="#14d424"/>
<polygon points="2442.7,713.3 2445.0,710.6 2448.9,708.2 2452.4,709.4 2452.0,711.7 2448.9,713.3 2445.0,714.5" fill="url(#mg)"/>
<polygon points="2454.7,712.5 2455.9,711.0 2457.1,711.4 2457.1,712.9" fill="#14d424"/>
<polygon points="2454.7,712.5 2455.9,711.0 2457.1,711.4 2457.1,712.9" fill="url(#mg)"/>
<polygon points="2458.2,714.1 2460.6,713.3 2461.7,714.8 2460.6,716.8 2458.2,716.8" fill="#14d424"/>
<polygon points="2458.2,714.1 2460.6,713.3 2461.7,714.8 2460.6,716.8 2458.2,716.8" fill="url(#mg)"/>
<polygon points="2417.1,738.5 2420.2,736.2 2421.0,737.4 2418.6,739.7" fill="#0cb418"/>
<polygon points="2486.1,722.4 2487.3,720.5 2488.6,718.9 2489.2,719.9 2488.6,721.7 2487.0,723.0" fill="#0cb418"/>
<polygon points="2491.1,723.6 2492.3,721.4 2493.9,722.4 2493.9,723.9 2492.0,724.8" fill="#14d424"/>
<polygon points="2491.1,723.6 2492.3,721.4 2493.9,722.4 2493.9,723.9 2492.0,724.8" fill="url(#mg)"/>
<polygon points="2504.7,730.4 2506.0,728.3 2508.8,728.9 2509.4,732.3 2507.8,733.5 2505.3,732.9" fill="#14d424"/>
<polygon points="2504.7,730.4 2506.0,728.3 2508.8,728.9 2509.4,732.3 2507.8,733.5 2505.3,732.9" fill="url(#mg)"/>
<polygon points="2404.3,833.7 2405.8,832.2 2408.2,832.2 2407.8,834.5 2405.0,834.9" fill="#14d424"/>
<polygon points="2404.3,833.7 2405.8,832.2 2408.2,832.2 2407.8,834.5 2405.0,834.9" fill="url(#mg)"/>
<polygon points="2409.3,831.8 2411.6,831.4 2411.6,832.6 2409.3,832.6" fill="#14d424"/>
<polygon points="2409.3,831.8 2411.6,831.4 2411.6,832.6 2409.3,832.6" fill="url(#mg)"/>
<polygon points="2415.5,831.8 2418.6,829.5 2420.2,829.8 2418.6,831.4" fill="#14d424"/>
<polygon points="2415.5,831.8 2418.6,829.5 2420.2,829.8 2418.6,831.4" fill="url(#mg)"/>
<polygon points="2421.7,830.6 2423.3,829.1 2426.4,829.1 2425.6,832.2 2423.3,833.0 2421.7,832.2" fill="#14d424"/>
<polygon points="2421.7,830.6 2423.3,829.1 2426.4,829.1 2425.6,832.2 2423.3,833.0 2421.7,832.2" fill="url(#mg)"/>
<polygon points="2428.0,833.0 2430.3,832.2 2433.4,833.0 2434.9,833.7 2434.2,835.7 2429.5,836.1 2428.0,834.9" fill="#14d424"/>
<polygon points="2428.0,833.0 2430.3,832.2 2433.4,833.0 2434.9,833.7 2434.2,835.7 2429.5,836.1 2428.0,834.9" fill="url(#mg)"/>
<polygon points="2505.8,815.5 2507.4,813.2 2510.5,810.1 2512.0,811.3 2509.7,814.0 2507.4,816.7" fill="#14d424"/>
<polygon points="2505.8,815.5 2507.4,813.2 2510.5,810.1 2512.0,811.3 2509.7,814.0 2507.4,816.7" fill="url(#mg)"/>
<polygon points="2484.1,833.4 2487.2,830.3 2489.5,829.1 2493.4,829.5 2497.3,829.9 2498.8,830.3 2497.3,831.8 2494.9,833.4 2491.8,834.2 2488.7,833.4" fill="#14d424"/>
<polygon points="2484.1,833.4 2487.2,830.3 2489.5,829.1 2493.4,829.5 2497.3,829.9 2498.8,830.3 2497.3,831.8 2494.9,833.4 2491.8,834.2 2488.7,833.4" fill="url(#mg)"/>
<polygon points="2501.9,828.7 2505.0,828.0 2508.9,828.7 2510.5,829.5 2507.4,831.1 2505.0,831.8 2502.7,831.1" fill="#14d424"/>
<polygon points="2501.9,828.7 2505.0,828.0 2508.9,828.7 2510.5,829.5 2507.4,831.1 2505.0,831.8 2502.7,831.1" fill="url(#mg)"/>
<polygon points="2510.5,828.0 2515.1,826.4 2515.9,827.2 2512.8,828.7" fill="#14d424"/>
<polygon points="2510.5,828.0 2515.1,826.4 2515.9,827.2 2512.8,828.7" fill="url(#mg)"/>
<polygon points="2491.8,836.1 2494.2,834.9 2496.5,834.2 2494.9,835.7 2492.6,836.9" fill="#14d424"/>
<polygon points="2491.8,836.1 2494.2,834.9 2496.5,834.2 2494.9,835.7 2492.6,836.9" fill="url(#mg)"/>
<polygon points="2472.8,841.9 2474.8,839.2 2477.5,838.0 2480.6,838.4 2478.6,841.1 2476.3,843.5 2473.6,843.5" fill="#14d424"/>
<polygon points="2472.8,841.9 2474.8,839.2 2477.5,838.0 2480.6,838.4 2478.6,841.1 2476.3,843.5 2473.6,843.5" fill="url(#mg)"/>
<polygon points="2484.1,838.4 2487.2,837.7 2488.0,838.8 2484.8,839.2" fill="#14d424"/>
<polygon points="2484.1,838.4 2487.2,837.7 2488.0,838.8 2484.8,839.2" fill="url(#mg)"/>
<polygon points="2488.0,841.5 2490.3,840.8 2491.1,842.3 2488.7,842.7" fill="#14d424"/>
<polygon points="2488.0,841.5 2490.3,840.8 2491.1,842.3 2488.7,842.7" fill="url(#mg)"/>
<polygon points="2491.1,842.7 2494.2,841.1 2496.5,841.1 2499.6,841.5 2497.3,844.3 2494.2,845.4 2491.8,844.6" fill="#14d424"/>
<polygon points="2491.1,842.7 2494.2,841.1 2496.5,841.1 2499.6,841.5 2497.3,844.3 2494.2,845.4 2491.8,844.6" fill="url(#mg)"/>
<polygon points="2373.1,725.6 2375.6,721.5 2378.2,725.6" fill="#14d424"/>
<polygon points="2373.1,725.6 2375.6,721.5 2378.2,725.6" fill="url(#mg)"/>
<polygon points="2276.6,767.1 2278.3,765.9 2280.3,768.4 2279.5,770.0" fill="#14d424"/>
<polygon points="2276.6,767.1 2278.3,765.9 2280.3,768.4 2279.5,770.0" fill="url(#mg)"/>
<polygon points="994.0,11.4 995.2,10.0 996.1,10.2 995.2,11.9" fill="#3ee070"/>
<polygon points="994.9,15.4 998.9,15.1 999.0,17.5 994.9,17.2" fill="#14d424"/>
<polygon points="994.9,15.4 998.9,15.1 999.0,17.5 994.9,17.2" fill="url(#mg)"/>
<ellipse cx="2197.5" cy="528.7" rx="3.49" ry="2.14" fill="#0cb418" transform="rotate(-30 2197.5 528.7)"/>
<ellipse cx="2207.2" cy="530.3" rx="3.49" ry="1.94" fill="#0cb418" transform="rotate(-25 2207.2 530.3)"/>
<ellipse cx="2230.5" cy="523.3" rx="4.27" ry="1.94" fill="#0cb418" transform="rotate(-35 2230.5 523.3)"/>
<ellipse cx="2235.9" cy="516.7" rx="3.49" ry="1.55" fill="#0cb418" transform="rotate(-25 2235.9 516.7)"/>
<ellipse cx="2322.0" cy="497.2" rx="4.27" ry="3.49" fill="#0cb418"/>
<ellipse cx="2293.3" cy="508.0" rx="4.66" ry="1.75" fill="#0cb418" transform="rotate(-25 2293.3 508.0)"/>
<ellipse cx="2324.3" cy="488.6" rx="1.94" ry="1.94" fill="#0cb418"/>
<ellipse cx="2333.7" cy="510.0" rx="2.33" ry="1.16" fill="#0cb418" transform="rotate(-30 2333.7 510.0)"/>
<polygon points="2347.4,476.7 2350.5,473.2 2355.1,471.7 2359.8,472.1 2362.9,474.4 2360.6,479.1 2356.7,481.4 2352.0,482.2 2348.1,480.2" fill="#0cb418"/>
<ellipse cx="2420.6" cy="432.6" rx="3.49" ry="2.33" fill="#0cb418"/>
<ellipse cx="2417.8" cy="441.1" rx="3.11" ry="3.11" fill="#0cb418"/>
<ellipse cx="2397.3" cy="443.0" rx="1.55" ry="1.94" fill="#0cb418"/>
<ellipse cx="2464.1" cy="426.7" rx="4.27" ry="2.72" fill="#0cb418" transform="rotate(20 2464.1 426.7)"/>
<ellipse cx="2476.1" cy="439.2" rx="4.27" ry="3.11" fill="#0cb418" transform="rotate(20 2476.1 439.2)"/>
<ellipse cx="2487.4" cy="441.9" rx="2.72" ry="1.94" fill="#0cb418"/>
<ellipse cx="2502.1" cy="633.2" rx="1.75" ry="1.75" fill="#0cb418"/>
<ellipse cx="2493.6" cy="636.7" rx="1.75" ry="1.75" fill="#0cb418"/>
<ellipse cx="2497.1" cy="637.5" rx="1.75" ry="1.75" fill="#0cb418"/>
<ellipse cx="2507.5" cy="645.7" rx="2.33" ry="1.94" fill="#0cb418"/>
<ellipse cx="2516.9" cy="644.5" rx="1.75" ry="1.55" fill="#0cb418"/>
<ellipse cx="2523.9" cy="646.4" rx="1.36" ry="1.16" fill="#0cb418"/>
<ellipse cx="2528.9" cy="656.5" rx="1.36" ry="1.36" fill="#0cb418"/>
<polygon points="2506.0,666.6 2508.3,663.5 2512.2,661.2 2516.1,661.6 2518.4,664.3 2520.0,667.4 2521.5,670.5 2516.9,671.3 2512.2,671.7 2508.3,671.3 2506.0,669.0" fill="#0cb418"/>
<ellipse cx="2513.4" cy="695.4" rx="1.36" ry="1.36" fill="#0cb418"/>
<ellipse cx="2431.1" cy="834.5" rx="1.94" ry="1.16" fill="#0cb418"/>
<ellipse cx="2493.0" cy="831.4" rx="2.72" ry="1.55" fill="#0cb418"/>
<ellipse cx="2504.6" cy="829.5" rx="1.94" ry="1.36" fill="#0cb418"/>
<ellipse cx="2475.5" cy="840.4" rx="1.94" ry="1.55" fill="#0cb418"/>
<ellipse cx="2196.7" cy="529.1" rx="1.75" ry="1.16" fill="#078a10" transform="rotate(-30 2196.7 529.1)"/>
<ellipse cx="2228.9" cy="525.6" rx="1.55" ry="0.97" fill="#078a10" transform="rotate(-35 2228.9 525.6)"/>
<ellipse cx="2322.0" cy="497.6" rx="2.33" ry="2.14" fill="#078a10"/>
<ellipse cx="2355.1" cy="476.7" rx="5.82" ry="2.72" fill="#078a10" transform="rotate(-20 2355.1 476.7)"/>
<ellipse cx="2419.8" cy="432.2" rx="1.75" ry="1.16" fill="#078a10"/>
<ellipse cx="2418.6" cy="440.7" rx="1.75" ry="1.55" fill="#078a10"/>
<ellipse cx="2395.3" cy="450.4" rx="1.94" ry="1.94" fill="#078a10"/>
<ellipse cx="2463.7" cy="426.2" rx="1.94" ry="1.55" fill="#078a10"/>
<ellipse cx="2476.5" cy="439.2" rx="2.33" ry="1.55" fill="#078a10" transform="rotate(20 2476.5 439.2)"/>
<ellipse cx="2274.9" cy="420.5" rx="1.40" ry="1.09" fill="#078a10"/>
<ellipse cx="2501.9" cy="632.9" rx="1.09" ry="1.16" fill="#078a10"/>
<ellipse cx="2493.6" cy="636.2" rx="0.97" ry="1.09" fill="#078a10"/>
<ellipse cx="2497.5" cy="637.5" rx="0.97" ry="0.97" fill="#078a10"/>
<ellipse cx="2507.4" cy="646.1" rx="1.36" ry="1.09" fill="#078a10"/>
<ellipse cx="2517.0" cy="644.5" rx="0.97" ry="0.85" fill="#078a10"/>
<ellipse cx="2494.0" cy="631.1" rx="0.85" ry="0.85" fill="#078a10"/>
<ellipse cx="2491.4" cy="639.8" rx="0.85" ry="0.85" fill="#078a10"/>
<ellipse cx="2511.4" cy="639.1" rx="1.55" ry="1.55" fill="#078a10"/>
<ellipse cx="2506.8" cy="629.8" rx="1.36" ry="1.36" fill="#078a10"/>
<ellipse cx="2512.2" cy="667.8" rx="3.49" ry="2.33" fill="#078a10"/>
<ellipse cx="2508.3" cy="664.7" rx="1.94" ry="1.55" fill="#078a10"/>
<ellipse cx="2522.7" cy="678.3" rx="1.16" ry="0.97" fill="#078a10"/>
<ellipse cx="2523.5" cy="692.3" rx="3.11" ry="1.94" fill="#078a10"/>
<ellipse cx="2413.0" cy="649.5" rx="1.16" ry="0.85" fill="#078a10"/>
<ellipse cx="2507.2" cy="731.4" rx="1.09" ry="1.09" fill="#078a10"/>
<ellipse cx="997.5" cy="16.3" rx="0.93" ry="0.93" fill="#078a10"/>
<ellipse cx="2322.6" cy="496.6" rx="0.97" ry="0.97" fill="#8aa000"/>
<polygon points="2511.0,638.3 2512.2,638.3 2513.0,639.8 2513.0,642.2 2511.0,642.2 2510.7,639.8" fill="#f5dc00"/>
<polygon points="2516.1,667.4 2518.4,666.3 2520.0,666.6 2519.6,669.0 2518.0,669.4 2516.1,668.2" fill="#f5dc00"/>
<ellipse cx="2513.4" cy="661.4" rx="0.78" ry="0.78" fill="#f5dc00"/>
<ellipse cx="2509.5" cy="666.6" rx="0.70" ry="0.85" fill="#f5dc00"/>
<ellipse cx="2515.7" cy="689.9" rx="1.16" ry="1.09" fill="#f5dc00"/>
<ellipse cx="2526.4" cy="691.5" rx="0.70" ry="0.70" fill="#f5dc00"/>
<ellipse cx="2447.6" cy="711.7" rx="0.85" ry="0.85" fill="#8aa000"/>
<ellipse cx="2432.4" cy="834.5" rx="0.70" ry="0.70" fill="#f5dc00"/>
<ellipse cx="2489.5" cy="830.7" rx="0.78" ry="0.78" fill="#f5dc00"/>
<ellipse cx="2375.6" cy="724.1" rx="0.61" ry="0.61" fill="#e89000"/>
<ellipse cx="2511.4" cy="638.7" rx="0.54" ry="0.54" fill="#e89000"/>
<polygon points="2214.2,523.3 2217.3,520.2 2220.0,518.6 2220.4,521.7 2218.0,523.7" fill="#000000"/>
<polygon points="2341.9,472.9 2344.3,472.1 2348.1,473.2 2347.4,474.4 2342.7,474.4" fill="#000000"/>
<polygon points="2341.1,477.5 2345.8,477.1 2345.4,479.1 2341.1,478.7" fill="#000000"/>
<polygon points="2327.2,478.7 2333.8,479.1 2333.8,480.0 2328.7,480.0" fill="#000000"/>
<polygon points="2471.2,429.7 2472.6,429.2 2475.8,430.6 2480.0,431.7 2483.3,432.7 2485.6,433.8 2487.9,434.3 2489.8,436.4 2487.9,436.6 2484.4,435.9 2483.3,434.8 2480.5,435.2 2476.3,434.3 2474.9,432.9 2473.0,430.8" fill="#000000"/>
<ellipse cx="2496.1" cy="644.7" rx="1.09" ry="1.09" fill="#000000"/>
<ellipse cx="2503.1" cy="644.1" rx="1.09" ry="1.24" fill="#000000"/>
</g>
</svg>
</body></html>
